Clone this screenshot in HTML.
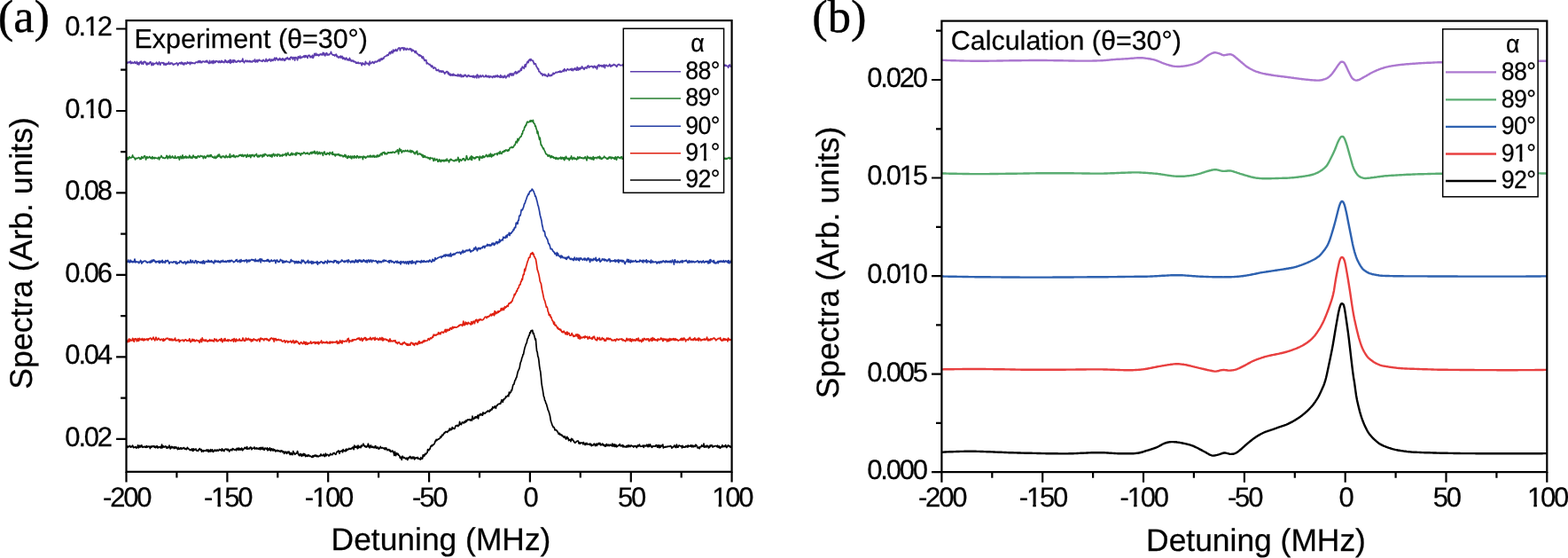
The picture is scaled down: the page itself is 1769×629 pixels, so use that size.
<!DOCTYPE html>
<html lang="en">
<head>
<meta charset="utf-8">
<title>Spectra</title>
<style>
html,body{margin:0;padding:0;background:#fff;}
body{width:1769px;height:629px;overflow:hidden;}
svg{display:block;}
text{font-family:"Liberation Sans",sans-serif;fill:#000;stroke:#000;stroke-width:0.25px;text-rendering:geometricPrecision;}
.tick{font-size:31.0px;letter-spacing:-2.2px;}
.title{font-size:30.45px;}
.axis{font-size:35.4px;}
.yaxis{font-size:35.6px;}
.leg{font-size:26.8px;letter-spacing:-0.7px;}
.panel{font-family:"Liberation Serif",serif;font-size:52.5px;stroke-width:0.4px;}
.fr{stroke:#000;stroke-width:2.2;fill:none;stroke-linecap:butt;stroke-linejoin:miter;}
.cv{fill:none;stroke-linejoin:round;stroke-linecap:butt;}
</style>
</head>
<body>
<svg width="1769" height="629" viewBox="0 0 1769 629">
<rect x="0" y="0" width="1769" height="629" fill="#ffffff"/>

<clipPath id="ca"><rect x="142.5" y="23.1" width="683.1" height="508.7"/></clipPath>
<g clip-path="url(#ca)">
<path class="cv" d="M143.0 72.0L143.6 70.0L144.2 70.5L144.8 70.9L145.4 69.8L146.0 70.6L146.6 70.6L147.2 69.0L147.8 71.6L148.4 71.3L149.0 70.1L149.6 70.6L150.2 71.3L150.8 70.6L151.4 70.6L152.0 69.5L152.6 71.4L153.2 71.1L153.8 71.2L154.4 69.5L155.0 72.6L155.6 71.2L156.2 70.7L156.8 73.0L157.4 71.1L158.0 69.8L158.6 70.8L159.2 69.0L159.8 72.2L160.4 70.8L161.0 70.5L161.6 72.3L162.2 69.7L162.8 69.6L163.4 69.4L164.0 70.7L164.6 70.2L165.2 72.8L165.8 73.1L166.4 71.1L167.0 72.2L167.6 71.3L168.2 72.0L168.8 70.7L169.4 69.8L170.0 69.8L170.6 71.9L171.2 73.6L171.8 71.8L172.4 71.0L173.0 73.4L173.6 71.8L174.2 71.7L174.8 71.8L175.4 71.5L176.0 71.3L176.6 70.2L177.2 72.1L177.8 71.5L178.4 72.8L179.0 71.3L179.6 69.8L180.2 71.6L180.8 73.3L181.4 71.3L182.0 70.8L182.6 70.5L183.2 70.7L183.8 71.4L184.4 70.6L185.0 73.1L185.6 71.4L186.2 71.8L186.8 73.1L187.4 73.1L188.0 71.5L188.6 72.0L189.2 72.4L189.8 71.5L190.4 70.0L191.0 72.3L191.6 72.5L192.2 72.1L192.8 70.8L193.4 71.5L194.0 71.1L194.6 71.4L195.2 72.9L195.8 73.1L196.4 72.3L197.0 72.2L197.6 72.3L198.2 71.6L198.8 71.5L199.4 70.9L200.0 71.5L200.6 73.7L201.2 72.4L201.8 71.2L202.4 71.0L203.0 70.6L203.6 71.8L204.2 71.8L204.8 70.0L205.4 71.8L206.0 70.8L206.6 72.7L207.2 71.4L207.8 72.9L208.4 70.8L209.0 70.9L209.6 71.5L210.2 72.2L210.8 71.7L211.4 69.9L212.0 71.2L212.6 71.1L213.2 70.6L213.8 70.4L214.4 72.6L215.0 70.5L215.6 70.1L216.2 71.5L216.8 70.9L217.4 70.7L218.0 71.5L218.6 71.2L219.2 71.0L219.8 71.6L220.4 70.9L221.0 70.0L221.6 70.2L222.2 70.0L222.8 70.7L223.4 69.4L224.0 68.7L224.6 70.5L225.2 69.1L225.8 68.5L226.4 70.7L227.0 69.6L227.6 70.7L228.2 69.7L228.8 69.1L229.4 69.0L230.0 69.6L230.6 69.9L231.2 69.3L231.8 69.8L232.4 68.6L233.0 70.0L233.6 68.3L234.2 69.8L234.8 70.6L235.4 71.0L236.0 71.5L236.6 68.4L237.2 70.6L237.8 71.0L238.4 70.7L239.0 68.9L239.6 70.2L240.2 71.5L240.8 68.3L241.4 70.2L242.0 70.8L242.6 69.0L243.2 70.2L243.8 68.7L244.4 68.9L245.0 68.9L245.6 69.8L246.2 69.5L246.8 70.5L247.4 68.7L248.0 69.5L248.6 70.5L249.2 70.1L249.8 68.3L250.4 70.2L251.0 69.1L251.6 69.9L252.2 69.8L252.8 70.7L253.4 69.6L254.0 67.7L254.6 68.2L255.2 70.2L255.8 69.2L256.4 70.5L257.0 69.7L257.6 68.7L258.2 70.4L258.8 68.6L259.4 67.4L260.0 71.3L260.6 67.6L261.2 70.0L261.8 70.2L262.4 69.5L263.0 67.7L263.6 70.3L264.2 67.9L264.8 68.0L265.4 69.0L266.0 70.0L266.6 69.6L267.2 70.0L267.8 68.8L268.4 69.1L269.0 68.2L269.6 68.9L270.2 69.8L270.8 68.9L271.4 69.6L272.0 68.6L272.6 68.6L273.2 69.2L273.8 66.2L274.4 69.7L275.0 69.3L275.6 70.8L276.2 68.9L276.8 68.9L277.4 68.1L278.0 69.1L278.6 69.7L279.2 68.3L279.8 69.0L280.4 69.7L281.0 68.9L281.6 68.5L282.2 69.9L282.8 69.0L283.4 69.3L284.0 70.0L284.6 70.0L285.2 68.5L285.8 68.3L286.4 69.1L287.0 68.7L287.6 67.0L288.2 70.0L288.8 68.8L289.4 69.4L290.0 67.6L290.6 69.9L291.2 68.1L291.8 68.5L292.4 67.2L293.0 68.4L293.6 68.3L294.2 68.3L294.8 68.9L295.4 68.5L296.0 69.3L296.6 67.9L297.2 67.4L297.8 68.2L298.4 68.8L299.0 69.4L299.6 68.9L300.2 66.4L300.8 68.4L301.4 69.4L302.0 68.0L302.6 67.4L303.2 68.2L303.8 67.4L304.4 66.4L305.0 67.8L305.6 69.0L306.2 68.1L306.8 66.9L307.4 68.2L308.0 68.4L308.6 66.9L309.2 67.0L309.8 65.2L310.4 68.2L311.0 66.7L311.6 65.2L312.2 65.5L312.8 66.9L313.4 67.8L314.0 67.0L314.6 67.5L315.2 65.9L315.8 65.6L316.4 67.7L317.0 67.3L317.6 66.7L318.2 67.9L318.8 65.8L319.4 66.2L320.0 67.5L320.6 68.3L321.2 66.5L321.8 68.0L322.4 65.8L323.0 66.6L323.6 66.1L324.2 64.7L324.8 66.4L325.4 67.0L326.0 65.9L326.6 65.9L327.2 67.2L327.8 64.6L328.4 64.3L329.0 65.1L329.6 64.5L330.2 66.9L330.8 65.8L331.4 64.6L332.0 64.8L332.6 68.1L333.2 64.7L333.8 64.5L334.4 65.4L335.0 65.7L335.6 67.8L336.2 64.1L336.8 63.8L337.4 65.4L338.0 64.7L338.6 63.1L339.2 65.7L339.8 65.3L340.4 64.3L341.0 64.2L341.6 64.6L342.2 63.6L342.8 63.0L343.4 64.5L344.0 62.7L344.6 64.4L345.2 62.6L345.8 63.8L346.4 63.7L347.0 65.5L347.6 62.7L348.2 62.3L348.8 62.9L349.4 62.4L350.0 64.9L350.6 63.7L351.2 63.9L351.8 64.7L352.4 62.3L353.0 65.4L353.6 64.7L354.2 62.5L354.8 60.4L355.4 62.5L356.0 62.5L356.6 60.2L357.2 62.3L357.8 62.0L358.4 61.3L359.0 62.6L359.6 62.9L360.2 61.4L360.8 62.0L361.4 61.1L362.0 60.9L362.6 61.6L363.2 62.0L363.8 60.9L364.4 59.3L365.0 61.9L365.6 59.8L366.2 61.3L366.8 62.9L367.4 61.1L368.0 60.0L368.6 59.7L369.2 62.2L369.8 61.1L370.4 61.6L371.0 62.0L371.6 61.1L372.2 60.9L372.8 60.4L373.4 58.4L374.0 60.0L374.6 61.5L375.2 61.5L375.8 62.2L376.4 61.8L377.0 62.2L377.6 63.0L378.2 61.6L378.8 62.3L379.4 61.2L380.0 63.8L380.6 63.2L381.2 63.8L381.8 65.0L382.4 64.7L383.0 63.8L383.6 64.9L384.2 63.0L384.8 64.9L385.4 64.9L386.0 63.4L386.6 66.4L387.2 64.7L387.8 66.2L388.4 65.3L389.0 66.8L389.6 67.3L390.2 65.5L390.8 65.1L391.4 66.6L392.0 67.8L392.6 66.9L393.2 66.9L393.8 68.2L394.4 65.4L395.0 67.7L395.6 67.2L396.2 69.1L396.8 68.3L397.4 68.2L398.0 69.1L398.6 68.2L399.2 69.8L399.8 69.3L400.4 69.7L401.0 69.5L401.6 71.2L402.2 70.4L402.8 71.1L403.4 71.2L404.0 70.1L404.6 71.5L405.2 71.4L405.8 71.5L406.4 70.9L407.0 71.0L407.6 72.2L408.2 73.7L408.8 70.9L409.4 72.2L410.0 71.5L410.6 72.6L411.2 72.3L411.8 73.0L412.4 69.3L413.0 71.4L413.6 71.1L414.2 71.9L414.8 71.3L415.4 71.3L416.0 72.5L416.6 73.5L417.2 69.0L417.8 71.2L418.4 71.7L419.0 71.2L419.6 70.7L420.2 69.6L420.8 69.8L421.4 71.2L422.0 71.4L422.6 70.2L423.2 69.2L423.8 69.8L424.4 69.3L425.0 69.9L425.6 69.2L426.2 68.3L426.8 68.8L427.4 67.2L428.0 68.8L428.6 68.9L429.2 66.3L429.8 67.5L430.4 65.8L431.0 67.3L431.6 66.8L432.2 65.3L432.8 66.1L433.4 64.4L434.0 63.8L434.6 63.5L435.2 63.5L435.8 62.9L436.4 62.9L437.0 61.7L437.6 62.6L438.2 62.3L438.8 60.4L439.4 59.1L440.0 58.8L440.6 60.7L441.2 59.1L441.8 57.7L442.4 58.9L443.0 59.8L443.6 56.2L444.2 58.2L444.8 57.2L445.4 56.4L446.0 57.4L446.6 55.5L447.2 56.8L447.8 57.5L448.4 56.3L449.0 55.1L449.6 54.1L450.2 54.4L450.8 53.8L451.4 56.9L452.0 55.1L452.6 54.2L453.2 53.9L453.8 54.1L454.4 54.7L455.0 53.7L455.6 56.5L456.2 54.1L456.8 54.1L457.4 55.1L458.0 56.2L458.6 56.1L459.2 54.5L459.8 55.3L460.4 55.3L461.0 55.8L461.6 55.8L462.2 54.8L462.8 54.7L463.4 56.3L464.0 55.2L464.6 57.9L465.2 56.9L465.8 56.1L466.4 57.1L467.0 57.3L467.6 58.0L468.2 59.4L468.8 57.6L469.4 57.6L470.0 60.1L470.6 60.1L471.2 60.9L471.8 61.6L472.4 61.5L473.0 62.8L473.6 61.7L474.2 63.1L474.8 62.8L475.4 63.0L476.0 65.2L476.6 65.7L477.2 63.9L477.8 65.2L478.4 67.2L479.0 68.5L479.6 67.4L480.2 68.4L480.8 67.7L481.4 72.0L482.0 70.6L482.6 71.5L483.2 71.8L483.8 72.6L484.4 72.8L485.0 72.4L485.6 74.0L486.2 73.8L486.8 75.5L487.4 74.0L488.0 74.6L488.6 76.2L489.2 77.2L489.8 76.5L490.4 76.0L491.0 76.9L491.6 76.9L492.2 79.4L492.8 78.8L493.4 79.4L494.0 78.8L494.6 78.3L495.2 80.2L495.8 80.9L496.4 80.1L497.0 79.8L497.6 81.1L498.2 79.9L498.8 81.2L499.4 80.0L500.0 80.0L500.6 81.7L501.2 81.7L501.8 83.3L502.4 81.5L503.0 81.9L503.6 81.0L504.2 80.5L504.8 80.8L505.4 83.1L506.0 81.7L506.6 84.1L507.2 84.6L507.8 83.1L508.4 85.1L509.0 83.9L509.6 84.9L510.2 83.8L510.8 85.1L511.4 83.4L512.0 85.0L512.6 84.1L513.2 84.5L513.8 85.3L514.4 85.0L515.0 84.8L515.6 85.6L516.2 85.7L516.8 83.7L517.4 85.6L518.0 85.8L518.6 84.5L519.2 85.6L519.8 84.0L520.4 86.7L521.0 85.1L521.6 85.3L522.2 86.6L522.8 85.3L523.4 86.1L524.0 84.5L524.6 85.0L525.2 84.3L525.8 85.4L526.4 86.6L527.0 85.9L527.6 86.5L528.2 84.7L528.8 84.9L529.4 85.3L530.0 86.3L530.6 86.1L531.2 85.8L531.8 86.4L532.4 85.7L533.0 85.9L533.6 87.2L534.2 85.4L534.8 86.1L535.4 87.5L536.0 86.1L536.6 86.7L537.2 85.5L537.8 87.9L538.4 84.0L539.0 85.1L539.6 85.2L540.2 87.7L540.8 86.5L541.4 86.0L542.0 85.0L542.6 86.6L543.2 86.4L543.8 85.7L544.4 84.9L545.0 85.3L545.6 86.6L546.2 86.7L546.8 86.5L547.4 86.3L548.0 84.8L548.6 86.5L549.2 85.5L549.8 86.5L550.4 86.9L551.0 85.9L551.6 85.5L552.2 87.4L552.8 86.8L553.4 85.9L554.0 86.5L554.6 86.4L555.2 87.1L555.8 87.5L556.4 85.8L557.0 85.9L557.6 86.0L558.2 87.2L558.8 85.3L559.4 86.3L560.0 85.5L560.6 86.6L561.2 84.9L561.8 86.7L562.4 85.9L563.0 86.1L563.6 86.8L564.2 87.3L564.8 84.6L565.4 87.2L566.0 86.7L566.6 85.9L567.2 87.5L567.8 86.3L568.4 87.3L569.0 85.5L569.6 85.2L570.2 87.1L570.8 87.9L571.4 86.4L572.0 86.5L572.6 85.1L573.2 84.2L573.8 85.1L574.4 86.6L575.0 83.2L575.6 84.3L576.2 82.8L576.8 84.5L577.4 85.1L578.0 82.9L578.6 83.4L579.2 84.9L579.8 83.3L580.4 82.0L581.0 81.6L581.6 80.7L582.2 83.1L582.8 81.3L583.4 82.7L584.0 82.2L584.6 80.4L585.2 80.1L585.8 81.0L586.4 80.0L587.0 79.7L587.6 77.4L588.2 79.3L588.8 77.0L589.4 75.1L590.0 76.0L590.6 76.4L591.2 77.3L591.8 74.3L592.4 72.7L593.0 75.3L593.6 72.8L594.2 71.6L594.8 70.0L595.4 69.2L596.0 70.7L596.6 68.2L597.2 67.3L597.8 66.8L598.4 68.5L599.0 66.5L599.6 67.9L600.2 68.0L600.8 68.6L601.4 68.3L602.0 70.6L602.6 72.4L603.2 71.7L603.8 71.6L604.4 72.2L605.0 74.7L605.6 75.3L606.2 76.6L606.8 77.9L607.4 77.5L608.0 80.6L608.6 80.8L609.2 81.2L609.8 82.2L610.4 83.5L611.0 83.3L611.6 82.9L612.2 85.3L612.8 84.2L613.4 84.1L614.0 83.5L614.6 85.1L615.2 84.1L615.8 84.7L616.4 85.7L617.0 85.4L617.6 86.3L618.2 85.7L618.8 83.0L619.4 85.1L620.0 84.8L620.6 85.8L621.2 85.0L621.8 84.4L622.4 85.3L623.0 84.3L623.6 83.5L624.2 82.2L624.8 83.7L625.4 83.2L626.0 82.7L626.6 82.0L627.2 81.3L627.8 81.6L628.4 81.9L629.0 81.4L629.6 81.2L630.2 80.7L630.8 81.3L631.4 81.1L632.0 80.0L632.6 81.3L633.2 81.2L633.8 81.1L634.4 80.0L635.0 79.9L635.6 78.8L636.2 80.5L636.8 77.6L637.4 79.2L638.0 79.1L638.6 80.1L639.2 79.2L639.8 78.2L640.4 77.7L641.0 78.2L641.6 78.9L642.2 78.8L642.8 78.4L643.4 77.8L644.0 78.2L644.6 79.3L645.2 77.2L645.8 78.1L646.4 79.6L647.0 78.5L647.6 77.4L648.2 78.4L648.8 76.9L649.4 77.6L650.0 79.0L650.6 79.2L651.2 75.7L651.8 77.9L652.4 79.0L653.0 76.6L653.6 77.2L654.2 78.4L654.8 76.4L655.4 77.2L656.0 76.6L656.6 74.8L657.2 76.9L657.8 76.3L658.4 77.3L659.0 78.3L659.6 76.9L660.2 75.9L660.8 76.6L661.4 76.3L662.0 77.0L662.6 74.6L663.2 74.8L663.8 73.9L664.4 76.3L665.0 75.7L665.6 75.0L666.2 74.8L666.8 74.9L667.4 74.5L668.0 75.0L668.6 74.8L669.2 76.5L669.8 75.5L670.4 74.3L671.0 74.5L671.6 76.1L672.2 75.3L672.8 75.1L673.4 77.9L674.0 76.3L674.6 73.5L675.2 73.9L675.8 72.9L676.4 75.0L677.0 74.1L677.6 73.8L678.2 73.7L678.8 75.0L679.4 74.2L680.0 73.8L680.6 75.4L681.2 73.2L681.8 73.0L682.4 76.6L683.0 73.8L683.6 73.5L684.2 73.3L684.8 73.9L685.4 74.7L686.0 74.6L686.6 74.4L687.2 73.6L687.8 72.4L688.4 74.0L689.0 75.2L689.6 74.7L690.2 73.5L690.8 74.4L691.4 73.3L692.0 73.5L692.6 72.4L693.2 73.2L693.8 73.7L694.4 73.3L695.0 74.2L695.6 75.3L696.2 74.7L696.8 73.1L697.4 72.7L698.0 72.8L698.6 72.5L699.2 73.4L699.8 73.8L700.4 73.6L701.0 73.6L701.6 73.6L702.2 73.3L702.8 72.7L703.4 75.0L704.0 74.4L704.6 72.5L705.2 72.5L705.8 72.8L706.4 73.4L707.0 74.6L707.6 74.4L708.2 74.4L708.8 74.4L709.4 74.5L710.0 74.1L710.6 73.8L711.2 73.3L711.8 71.8L712.4 73.3L713.0 75.1L713.6 72.9L714.2 72.8L714.8 74.4L715.4 73.5L716.0 73.0L716.6 74.9L717.2 74.0L717.8 74.1L718.4 72.9L719.0 73.9L719.6 73.8L720.2 74.2L720.8 74.5L721.4 74.5L722.0 73.6L722.6 72.2L723.2 72.4L723.8 74.1L724.4 74.1L725.0 73.1L725.6 72.7L726.2 73.4L726.8 72.3L727.4 73.8L728.0 73.7L728.6 75.2L729.2 73.5L729.8 74.5L730.4 74.5L731.0 74.4L731.6 73.3L732.2 73.2L732.8 73.1L733.4 74.0L734.0 75.7L734.6 74.8L735.2 75.0L735.8 74.8L736.4 72.0L737.0 73.3L737.6 73.1L738.2 74.7L738.8 75.1L739.4 72.9L740.0 73.5L740.6 74.0L741.2 73.0L741.8 72.9L742.4 72.9L743.0 74.4L743.6 72.7L744.2 74.6L744.8 73.6L745.4 74.2L746.0 75.0L746.6 72.9L747.2 72.8L747.8 73.9L748.4 72.6L749.0 72.9L749.6 73.4L750.2 73.7L750.8 72.4L751.4 73.2L752.0 74.1L752.6 74.8L753.2 71.7L753.8 74.8L754.4 74.4L755.0 72.5L755.6 72.2L756.2 74.0L756.8 73.2L757.4 73.7L758.0 74.4L758.6 73.2L759.2 73.7L759.8 74.0L760.4 74.4L761.0 75.3L761.6 75.2L762.2 73.8L762.8 73.4L763.4 75.9L764.0 74.2L764.6 74.0L765.2 72.6L765.8 74.4L766.4 72.9L767.0 73.2L767.6 72.4L768.2 73.2L768.8 73.7L769.4 72.2L770.0 72.8L770.6 73.6L771.2 72.5L771.8 72.5L772.4 72.9L773.0 72.3L773.6 74.3L774.2 72.7L774.8 74.4L775.4 74.6L776.0 72.6L776.6 73.7L777.2 73.3L777.8 72.6L778.4 73.4L779.0 73.5L779.6 74.4L780.2 74.7L780.8 72.7L781.4 73.4L782.0 74.2L782.6 74.9L783.2 71.4L783.8 75.0L784.4 73.6L785.0 75.2L785.6 73.4L786.2 73.0L786.8 73.8L787.4 74.9L788.0 73.8L788.6 71.6L789.2 74.5L789.8 72.3L790.4 72.9L791.0 72.7L791.6 72.1L792.2 72.6L792.8 72.9L793.4 73.3L794.0 73.8L794.6 73.5L795.2 72.5L795.8 73.7L796.4 74.8L797.0 74.8L797.6 74.0L798.2 74.5L798.8 74.7L799.4 75.2L800.0 75.5L800.6 73.6L801.2 73.7L801.8 75.3L802.4 75.4L803.0 75.4L803.6 71.7L804.2 73.8L804.8 70.9L805.4 74.7L806.0 74.0L806.6 74.0L807.2 73.9L807.8 77.0L808.4 73.7L809.0 75.0L809.6 74.5L810.2 74.4L810.8 74.5L811.4 74.1L812.0 73.0L812.6 74.7L813.2 74.7L813.8 73.9L814.4 74.8L815.0 74.9L815.6 72.9L816.2 74.0L816.8 73.7L817.4 73.2L818.0 74.4L818.6 73.3L819.2 73.7L819.8 74.4L820.4 74.5L821.0 74.5L821.6 76.3L822.2 73.7L822.8 74.4L823.4 73.0L824.0 74.6L824.6 75.3L825.0 75.4" stroke="#5e3eae" stroke-width="1.7"/>
<path class="cv" d="M143.0 178.1L143.6 177.3L144.2 180.0L144.8 177.8L145.4 178.9L146.0 176.6L146.6 177.7L147.2 177.9L147.8 178.0L148.4 177.5L149.0 177.0L149.6 174.9L150.2 177.3L150.8 177.0L151.4 177.6L152.0 178.6L152.6 179.9L153.2 178.3L153.8 178.8L154.4 178.4L155.0 178.5L155.6 178.4L156.2 177.5L156.8 177.5L157.4 178.1L158.0 179.5L158.6 178.5L159.2 179.3L159.8 176.5L160.4 178.0L161.0 178.1L161.6 178.2L162.2 176.4L162.8 176.0L163.4 175.7L164.0 177.4L164.6 180.0L165.2 177.9L165.8 176.6L166.4 178.0L167.0 177.4L167.6 177.9L168.2 177.3L168.8 176.5L169.4 177.2L170.0 178.4L170.6 178.0L171.2 178.8L171.8 176.6L172.4 178.7L173.0 177.7L173.6 177.8L174.2 178.8L174.8 177.5L175.4 177.9L176.0 178.2L176.6 178.2L177.2 178.4L177.8 178.8L178.4 178.1L179.0 177.2L179.6 179.9L180.2 177.6L180.8 177.9L181.4 176.9L182.0 175.5L182.6 176.8L183.2 177.6L183.8 178.1L184.4 177.6L185.0 178.3L185.6 178.5L186.2 178.5L186.8 177.5L187.4 177.6L188.0 175.3L188.6 176.7L189.2 178.8L189.8 176.3L190.4 177.4L191.0 177.7L191.6 175.4L192.2 178.2L192.8 177.1L193.4 177.7L194.0 177.1L194.6 176.0L195.2 177.6L195.8 177.5L196.4 178.3L197.0 177.8L197.6 175.8L198.2 178.4L198.8 178.1L199.4 178.1L200.0 177.8L200.6 176.7L201.2 177.8L201.8 177.0L202.4 180.1L203.0 177.1L203.6 176.2L204.2 177.0L204.8 178.6L205.4 176.7L206.0 174.9L206.6 178.6L207.2 177.6L207.8 176.8L208.4 177.9L209.0 176.3L209.6 176.1L210.2 178.1L210.8 176.7L211.4 177.7L212.0 177.2L212.6 177.9L213.2 177.2L213.8 175.2L214.4 177.8L215.0 176.7L215.6 177.9L216.2 177.2L216.8 178.4L217.4 176.8L218.0 175.1L218.6 176.7L219.2 177.5L219.8 176.7L220.4 176.6L221.0 178.4L221.6 176.8L222.2 178.0L222.8 177.1L223.4 175.6L224.0 176.0L224.6 176.6L225.2 177.2L225.8 176.1L226.4 175.5L227.0 175.9L227.6 176.4L228.2 176.0L228.8 176.3L229.4 178.6L230.0 177.1L230.6 176.0L231.2 176.8L231.8 178.3L232.4 177.4L233.0 176.6L233.6 175.4L234.2 175.1L234.8 176.4L235.4 176.6L236.0 175.1L236.6 175.4L237.2 176.6L237.8 174.5L238.4 175.0L239.0 176.5L239.6 177.1L240.2 176.9L240.8 177.5L241.4 178.0L242.0 177.4L242.6 176.2L243.2 178.5L243.8 178.1L244.4 177.4L245.0 175.7L245.6 176.8L246.2 174.4L246.8 176.1L247.4 174.0L248.0 176.0L248.6 177.3L249.2 176.4L249.8 177.9L250.4 176.3L251.0 176.4L251.6 176.0L252.2 176.8L252.8 176.2L253.4 177.4L254.0 177.8L254.6 176.6L255.2 175.2L255.8 176.7L256.4 177.5L257.0 176.8L257.6 176.4L258.2 177.0L258.8 177.4L259.4 173.6L260.0 177.6L260.6 176.8L261.2 176.5L261.8 175.5L262.4 176.3L263.0 176.6L263.6 174.6L264.2 176.7L264.8 176.1L265.4 177.4L266.0 176.6L266.6 175.8L267.2 176.0L267.8 176.6L268.4 176.1L269.0 176.4L269.6 175.2L270.2 174.7L270.8 175.3L271.4 174.5L272.0 175.1L272.6 176.2L273.2 174.3L273.8 174.6L274.4 176.5L275.0 175.3L275.6 175.8L276.2 174.6L276.8 174.8L277.4 175.4L278.0 177.3L278.6 176.1L279.2 174.1L279.8 176.1L280.4 176.5L281.0 176.3L281.6 174.5L282.2 175.6L282.8 177.6L283.4 174.7L284.0 175.9L284.6 174.9L285.2 174.3L285.8 175.1L286.4 176.5L287.0 176.6L287.6 174.7L288.2 175.0L288.8 174.6L289.4 173.5L290.0 176.0L290.6 176.9L291.2 176.8L291.8 175.0L292.4 176.6L293.0 176.4L293.6 175.0L294.2 175.3L294.8 175.0L295.4 175.5L296.0 177.0L296.6 174.4L297.2 174.1L297.8 176.1L298.4 175.3L299.0 173.4L299.6 174.2L300.2 174.4L300.8 174.6L301.4 175.5L302.0 176.1L302.6 175.0L303.2 175.2L303.8 174.4L304.4 176.0L305.0 176.3L305.6 174.8L306.2 174.3L306.8 177.0L307.4 175.9L308.0 174.1L308.6 173.3L309.2 174.6L309.8 176.0L310.4 174.4L311.0 174.6L311.6 174.4L312.2 175.4L312.8 176.1L313.4 173.6L314.0 174.5L314.6 174.5L315.2 174.1L315.8 176.2L316.4 175.4L317.0 174.8L317.6 175.3L318.2 176.0L318.8 174.2L319.4 175.0L320.0 174.1L320.6 174.4L321.2 174.7L321.8 174.2L322.4 172.9L323.0 175.7L323.6 174.4L324.2 173.1L324.8 172.1L325.4 174.1L326.0 174.7L326.6 175.0L327.2 175.1L327.8 173.6L328.4 174.5L329.0 172.4L329.6 174.0L330.2 174.6L330.8 173.1L331.4 173.5L332.0 173.7L332.6 173.7L333.2 174.9L333.8 172.4L334.4 174.7L335.0 172.2L335.6 172.7L336.2 172.5L336.8 173.1L337.4 172.7L338.0 173.6L338.6 173.1L339.2 175.1L339.8 173.4L340.4 172.7L341.0 173.3L341.6 173.4L342.2 172.7L342.8 171.7L343.4 172.0L344.0 172.9L344.6 173.5L345.2 173.1L345.8 172.5L346.4 173.1L347.0 172.1L347.6 172.8L348.2 173.9L348.8 173.6L349.4 173.8L350.0 172.1L350.6 172.6L351.2 171.5L351.8 173.3L352.4 172.0L353.0 171.1L353.6 171.9L354.2 172.6L354.8 170.3L355.4 171.0L356.0 173.3L356.6 172.5L357.2 172.4L357.8 170.9L358.4 173.9L359.0 173.4L359.6 173.1L360.2 171.4L360.8 173.0L361.4 173.6L362.0 172.2L362.6 172.3L363.2 172.1L363.8 173.2L364.4 175.3L365.0 172.3L365.6 171.3L366.2 171.1L366.8 173.6L367.4 174.2L368.0 173.6L368.6 174.1L369.2 172.3L369.8 172.8L370.4 173.2L371.0 172.8L371.6 174.5L372.2 171.7L372.8 172.5L373.4 172.7L374.0 172.4L374.6 174.0L375.2 171.3L375.8 174.4L376.4 174.2L377.0 173.7L377.6 174.9L378.2 175.9L378.8 173.9L379.4 174.6L380.0 174.4L380.6 174.6L381.2 173.8L381.8 173.7L382.4 175.1L383.0 174.2L383.6 175.7L384.2 175.7L384.8 174.7L385.4 175.6L386.0 175.5L386.6 175.4L387.2 176.8L387.8 175.9L388.4 176.2L389.0 174.3L389.6 176.8L390.2 175.0L390.8 176.1L391.4 178.1L392.0 178.4L392.6 176.5L393.2 175.7L393.8 177.4L394.4 176.7L395.0 177.5L395.6 176.0L396.2 178.4L396.8 178.8L397.4 176.0L398.0 176.7L398.6 176.7L399.2 178.1L399.8 175.5L400.4 177.6L401.0 177.2L401.6 176.6L402.2 178.0L402.8 175.5L403.4 176.0L404.0 176.6L404.6 178.0L405.2 176.9L405.8 176.4L406.4 177.7L407.0 176.7L407.6 176.5L408.2 176.8L408.8 177.4L409.4 179.6L410.0 176.0L410.6 177.2L411.2 176.8L411.8 176.6L412.4 178.3L413.0 177.5L413.6 177.4L414.2 176.3L414.8 175.8L415.4 176.9L416.0 176.3L416.6 176.0L417.2 177.1L417.8 175.2L418.4 175.6L419.0 177.0L419.6 176.1L420.2 176.8L420.8 175.3L421.4 176.7L422.0 175.3L422.6 177.2L423.2 176.6L423.8 176.2L424.4 177.1L425.0 175.9L425.6 174.8L426.2 176.8L426.8 175.5L427.4 176.2L428.0 175.0L428.6 175.8L429.2 173.7L429.8 173.2L430.4 172.9L431.0 174.8L431.6 172.0L432.2 172.0L432.8 172.2L433.4 171.4L434.0 173.7L434.6 172.3L435.2 173.7L435.8 173.1L436.4 173.7L437.0 173.3L437.6 171.7L438.2 172.4L438.8 171.9L439.4 172.4L440.0 172.0L440.6 171.7L441.2 172.3L441.8 171.6L442.4 172.1L443.0 171.3L443.6 171.1L444.2 172.0L444.8 171.9L445.4 172.1L446.0 171.4L446.6 170.5L447.2 170.8L447.8 170.7L448.4 168.8L449.0 169.3L449.6 173.7L450.2 170.1L450.8 167.4L451.4 170.0L452.0 170.2L452.6 168.8L453.2 172.1L453.8 171.0L454.4 170.7L455.0 169.8L455.6 170.4L456.2 170.8L456.8 170.5L457.4 169.4L458.0 170.3L458.6 170.3L459.2 170.5L459.8 169.3L460.4 170.6L461.0 170.5L461.6 170.8L462.2 170.9L462.8 169.4L463.4 171.7L464.0 171.7L464.6 169.8L465.2 171.1L465.8 170.5L466.4 171.1L467.0 172.6L467.6 172.2L468.2 173.8L468.8 172.1L469.4 171.1L470.0 172.4L470.6 170.2L471.2 174.4L471.8 173.2L472.4 173.6L473.0 173.7L473.6 173.0L474.2 174.0L474.8 173.7L475.4 174.3L476.0 175.5L476.6 174.4L477.2 177.4L477.8 175.1L478.4 177.2L479.0 176.1L479.6 175.8L480.2 177.5L480.8 177.5L481.4 177.3L482.0 177.7L482.6 177.3L483.2 178.5L483.8 177.8L484.4 178.5L485.0 179.7L485.6 177.6L486.2 178.4L486.8 178.5L487.4 178.5L488.0 178.2L488.6 179.3L489.2 181.5L489.8 179.7L490.4 178.4L491.0 180.6L491.6 180.7L492.2 180.2L492.8 179.3L493.4 179.5L494.0 182.2L494.6 182.1L495.2 181.0L495.8 179.7L496.4 181.8L497.0 180.9L497.6 182.3L498.2 180.3L498.8 181.3L499.4 180.7L500.0 181.6L500.6 180.4L501.2 181.8L501.8 180.6L502.4 180.2L503.0 181.5L503.6 181.2L504.2 179.0L504.8 180.9L505.4 181.1L506.0 181.1L506.6 182.9L507.2 180.3L507.8 180.9L508.4 179.3L509.0 179.5L509.6 180.3L510.2 180.7L510.8 180.6L511.4 181.3L512.0 181.4L512.6 181.6L513.2 180.5L513.8 181.1L514.4 179.9L515.0 180.9L515.6 180.9L516.2 180.0L516.8 177.3L517.4 179.7L518.0 182.7L518.6 180.2L519.2 179.6L519.8 180.3L520.4 181.2L521.0 180.4L521.6 179.8L522.2 178.8L522.8 179.6L523.4 178.7L524.0 180.1L524.6 181.2L525.2 180.7L525.8 179.0L526.4 175.5L527.0 178.1L527.6 179.8L528.2 179.8L528.8 179.9L529.4 179.4L530.0 177.9L530.6 177.1L531.2 179.9L531.8 175.9L532.4 180.5L533.0 176.6L533.6 177.5L534.2 177.5L534.8 178.6L535.4 178.9L536.0 177.6L536.6 178.6L537.2 176.8L537.8 177.4L538.4 176.7L539.0 177.2L539.6 177.0L540.2 177.8L540.8 180.7L541.4 176.1L542.0 177.1L542.6 177.8L543.2 177.2L543.8 178.3L544.4 175.9L545.0 177.5L545.6 176.0L546.2 177.4L546.8 176.7L547.4 176.6L548.0 175.7L548.6 174.4L549.2 175.0L549.8 176.7L550.4 175.6L551.0 176.5L551.6 174.4L552.2 176.1L552.8 176.4L553.4 173.2L554.0 175.5L554.6 176.9L555.2 174.2L555.8 175.8L556.4 174.7L557.0 175.4L557.6 174.0L558.2 173.5L558.8 173.7L559.4 173.6L560.0 173.3L560.6 172.9L561.2 174.6L561.8 172.8L562.4 172.1L563.0 172.1L563.6 173.3L564.2 170.6L564.8 173.0L565.4 173.0L566.0 173.3L566.6 171.4L567.2 170.8L567.8 171.6L568.4 171.3L569.0 169.5L569.6 170.7L570.2 169.9L570.8 168.8L571.4 169.6L572.0 169.5L572.6 170.3L573.2 168.9L573.8 169.8L574.4 169.3L575.0 167.1L575.6 166.4L576.2 166.5L576.8 166.5L577.4 165.5L578.0 166.5L578.6 166.0L579.2 166.0L579.8 164.6L580.4 163.3L581.0 163.4L581.6 161.4L582.2 159.3L582.8 159.9L583.4 160.9L584.0 156.4L584.6 158.8L585.2 157.9L585.8 156.0L586.4 155.4L587.0 154.2L587.6 154.2L588.2 153.4L588.8 150.6L589.4 150.9L590.0 147.5L590.6 147.3L591.2 146.1L591.8 143.1L592.4 143.3L593.0 141.0L593.6 141.3L594.2 138.9L594.8 137.4L595.4 137.2L596.0 138.0L596.6 137.8L597.2 137.4L597.8 136.1L598.4 137.2L599.0 135.7L599.6 135.9L600.2 137.1L600.8 136.4L601.4 135.5L602.0 138.8L602.6 139.0L603.2 139.6L603.8 142.5L604.4 142.2L605.0 145.1L605.6 146.3L606.2 150.4L606.8 148.2L607.4 152.1L608.0 154.3L608.6 157.3L609.2 155.2L609.8 160.0L610.4 163.6L611.0 163.3L611.6 165.3L612.2 166.2L612.8 167.8L613.4 167.2L614.0 169.0L614.6 170.5L615.2 171.6L615.8 173.4L616.4 173.6L617.0 174.3L617.6 174.3L618.2 176.2L618.8 174.9L619.4 175.9L620.0 175.0L620.6 175.7L621.2 177.8L621.8 177.1L622.4 175.6L623.0 177.4L623.6 177.4L624.2 176.6L624.8 178.1L625.4 177.7L626.0 178.0L626.6 179.0L627.2 177.5L627.8 179.2L628.4 178.0L629.0 178.0L629.6 179.5L630.2 178.7L630.8 178.0L631.4 178.3L632.0 178.7L632.6 177.1L633.2 179.2L633.8 178.6L634.4 177.4L635.0 177.7L635.6 179.5L636.2 177.5L636.8 180.7L637.4 177.7L638.0 178.9L638.6 176.3L639.2 178.6L639.8 178.2L640.4 179.1L641.0 178.9L641.6 178.3L642.2 180.7L642.8 179.4L643.4 177.9L644.0 178.9L644.6 175.9L645.2 178.0L645.8 179.8L646.4 178.0L647.0 178.7L647.6 177.4L648.2 179.3L648.8 178.6L649.4 178.5L650.0 179.4L650.6 180.0L651.2 179.2L651.8 176.8L652.4 178.8L653.0 178.6L653.6 177.3L654.2 176.8L654.8 178.0L655.4 178.1L656.0 178.3L656.6 177.6L657.2 178.5L657.8 178.6L658.4 178.0L659.0 178.7L659.6 177.7L660.2 176.8L660.8 178.3L661.4 179.1L662.0 180.8L662.6 176.2L663.2 177.8L663.8 177.4L664.4 178.5L665.0 177.4L665.6 178.3L666.2 179.1L666.8 177.5L667.4 178.1L668.0 179.7L668.6 179.0L669.2 176.6L669.8 180.1L670.4 177.5L671.0 178.4L671.6 177.7L672.2 177.7L672.8 177.5L673.4 178.7L674.0 177.4L674.6 176.9L675.2 177.6L675.8 178.1L676.4 176.2L677.0 178.8L677.6 177.4L678.2 178.8L678.8 179.4L679.4 178.4L680.0 178.6L680.6 177.6L681.2 177.4L681.8 176.2L682.4 177.8L683.0 177.5L683.6 177.8L684.2 178.3L684.8 179.4L685.4 178.4L686.0 179.1L686.6 177.7L687.2 177.0L687.8 178.0L688.4 177.6L689.0 176.9L689.6 178.9L690.2 178.1L690.8 177.3L691.4 178.1L692.0 177.8L692.6 178.5L693.2 179.4L693.8 177.3L694.4 176.8L695.0 179.2L695.6 180.2L696.2 177.3L696.8 177.0L697.4 176.7L698.0 177.9L698.6 178.0L699.2 177.6L699.8 178.7L700.4 177.1L701.0 177.3L701.6 176.7L702.2 179.2L702.8 178.9L703.4 179.1L704.0 177.1L704.6 179.1L705.2 178.2L705.8 178.6L706.4 178.4L707.0 177.6L707.6 177.7L708.2 176.4L708.8 177.4L709.4 177.7L710.0 176.8L710.6 178.0L711.2 179.1L711.8 177.4L712.4 177.0L713.0 177.1L713.6 178.1L714.2 179.6L714.8 178.1L715.4 178.0L716.0 176.8L716.6 178.3L717.2 178.5L717.8 177.6L718.4 177.9L719.0 177.3L719.6 175.7L720.2 179.2L720.8 178.3L721.4 178.5L722.0 178.0L722.6 174.3L723.2 177.3L723.8 177.6L724.4 178.1L725.0 178.0L725.6 179.0L726.2 178.7L726.8 179.4L727.4 178.8L728.0 177.8L728.6 178.2L729.2 176.5L729.8 179.7L730.4 177.5L731.0 177.7L731.6 179.8L732.2 177.1L732.8 177.5L733.4 178.1L734.0 177.6L734.6 178.2L735.2 178.4L735.8 178.7L736.4 178.1L737.0 178.8L737.6 177.9L738.2 178.8L738.8 179.3L739.4 176.6L740.0 178.0L740.6 178.4L741.2 176.4L741.8 175.3L742.4 178.5L743.0 177.6L743.6 179.0L744.2 178.2L744.8 178.2L745.4 177.9L746.0 178.4L746.6 177.4L747.2 177.8L747.8 179.0L748.4 178.1L749.0 178.8L749.6 178.3L750.2 178.0L750.8 177.4L751.4 179.1L752.0 177.5L752.6 178.7L753.2 176.9L753.8 178.6L754.4 178.7L755.0 177.7L755.6 176.8L756.2 178.2L756.8 178.5L757.4 177.9L758.0 177.7L758.6 179.2L759.2 178.3L759.8 178.0L760.4 179.2L761.0 178.4L761.6 177.7L762.2 179.2L762.8 178.1L763.4 179.3L764.0 177.8L764.6 178.7L765.2 179.6L765.8 178.9L766.4 178.9L767.0 178.9L767.6 179.2L768.2 178.5L768.8 178.9L769.4 178.2L770.0 180.3L770.6 177.6L771.2 179.2L771.8 177.5L772.4 179.0L773.0 179.7L773.6 177.5L774.2 180.1L774.8 177.6L775.4 177.7L776.0 178.8L776.6 177.5L777.2 179.4L777.8 179.0L778.4 176.0L779.0 177.2L779.6 177.8L780.2 178.9L780.8 177.5L781.4 177.8L782.0 179.1L782.6 177.6L783.2 178.8L783.8 177.3L784.4 179.5L785.0 179.9L785.6 177.5L786.2 176.3L786.8 177.0L787.4 179.5L788.0 178.0L788.6 179.5L789.2 177.3L789.8 177.7L790.4 178.5L791.0 179.6L791.6 178.4L792.2 177.6L792.8 178.9L793.4 178.7L794.0 179.1L794.6 178.4L795.2 178.0L795.8 178.6L796.4 176.3L797.0 178.8L797.6 179.8L798.2 179.1L798.8 177.7L799.4 177.2L800.0 179.8L800.6 178.1L801.2 178.4L801.8 178.8L802.4 178.1L803.0 178.7L803.6 180.0L804.2 178.2L804.8 180.4L805.4 179.0L806.0 178.9L806.6 179.5L807.2 179.5L807.8 179.6L808.4 179.2L809.0 178.1L809.6 180.2L810.2 178.5L810.8 177.9L811.4 179.5L812.0 179.3L812.6 178.6L813.2 178.7L813.8 179.2L814.4 180.5L815.0 178.6L815.6 177.5L816.2 178.2L816.8 179.2L817.4 178.5L818.0 178.1L818.6 179.4L819.2 179.4L819.8 178.5L820.4 179.0L821.0 178.1L821.6 178.1L822.2 178.4L822.8 177.4L823.4 179.0L824.0 178.6L824.6 178.2L825.0 178.8" stroke="#237d2d" stroke-width="1.7"/>
<path class="cv" d="M143.0 294.3L143.6 295.6L144.2 294.1L144.8 293.1L145.4 295.4L146.0 295.9L146.6 294.6L147.2 293.2L147.8 295.5L148.4 294.3L149.0 294.5L149.6 295.7L150.2 294.9L150.8 295.5L151.4 294.5L152.0 292.0L152.6 295.8L153.2 294.6L153.8 295.3L154.4 295.2L155.0 295.6L155.6 295.1L156.2 295.1L156.8 296.6L157.4 295.3L158.0 295.2L158.6 293.5L159.2 294.4L159.8 297.1L160.4 296.2L161.0 294.9L161.6 295.4L162.2 294.4L162.8 294.3L163.4 294.1L164.0 294.5L164.6 294.3L165.2 295.7L165.8 295.3L166.4 296.2L167.0 295.4L167.6 295.4L168.2 295.4L168.8 296.0L169.4 294.3L170.0 296.1L170.6 295.2L171.2 293.3L171.8 295.1L172.4 293.2L173.0 294.1L173.6 292.8L174.2 294.1L174.8 294.9L175.4 294.4L176.0 296.0L176.6 294.8L177.2 294.7L177.8 294.9L178.4 295.4L179.0 294.1L179.6 296.4L180.2 296.3L180.8 294.2L181.4 294.9L182.0 295.7L182.6 294.1L183.2 293.4L183.8 296.2L184.4 295.0L185.0 295.1L185.6 295.0L186.2 296.4L186.8 293.6L187.4 294.9L188.0 294.6L188.6 293.9L189.2 293.5L189.8 294.4L190.4 295.6L191.0 297.2L191.6 295.9L192.2 295.4L192.8 295.5L193.4 295.4L194.0 296.0L194.6 295.7L195.2 296.0L195.8 295.0L196.4 295.3L197.0 294.9L197.6 295.2L198.2 296.8L198.8 294.9L199.4 297.4L200.0 297.3L200.6 296.0L201.2 296.0L201.8 296.2L202.4 296.3L203.0 294.1L203.6 294.6L204.2 294.2L204.8 295.6L205.4 296.0L206.0 295.7L206.6 296.7L207.2 296.4L207.8 295.3L208.4 294.9L209.0 295.2L209.6 297.7L210.2 295.9L210.8 295.3L211.4 296.2L212.0 294.4L212.6 296.0L213.2 295.5L213.8 295.9L214.4 296.0L215.0 293.0L215.6 295.0L216.2 296.0L216.8 295.6L217.4 293.8L218.0 295.6L218.6 296.0L219.2 296.3L219.8 295.8L220.4 293.7L221.0 294.3L221.6 294.2L222.2 296.8L222.8 295.7L223.4 294.8L224.0 295.2L224.6 295.2L225.2 296.1L225.8 296.0L226.4 295.1L227.0 296.7L227.6 295.4L228.2 294.8L228.8 296.9L229.4 293.9L230.0 294.3L230.6 297.1L231.2 295.6L231.8 295.2L232.4 294.4L233.0 295.0L233.6 295.1L234.2 295.3L234.8 293.3L235.4 295.2L236.0 294.0L236.6 295.4L237.2 295.2L237.8 294.8L238.4 293.8L239.0 295.6L239.6 294.7L240.2 295.6L240.8 296.1L241.4 296.9L242.0 294.5L242.6 293.4L243.2 295.1L243.8 294.9L244.4 294.2L245.0 294.8L245.6 295.3L246.2 294.0L246.8 295.4L247.4 295.7L248.0 294.6L248.6 296.0L249.2 294.5L249.8 294.0L250.4 295.1L251.0 294.3L251.6 293.4L252.2 295.2L252.8 295.2L253.4 294.6L254.0 295.2L254.6 294.2L255.2 295.5L255.8 295.2L256.4 294.2L257.0 293.8L257.6 294.2L258.2 295.4L258.8 293.6L259.4 293.5L260.0 295.0L260.6 294.2L261.2 293.3L261.8 293.9L262.4 294.3L263.0 294.7L263.6 295.7L264.2 295.3L264.8 295.0L265.4 294.1L266.0 293.1L266.6 294.0L267.2 292.6L267.8 294.4L268.4 295.2L269.0 294.6L269.6 294.1L270.2 293.3L270.8 295.7L271.4 295.0L272.0 292.6L272.6 294.8L273.2 294.4L273.8 293.9L274.4 294.0L275.0 293.7L275.6 294.8L276.2 293.5L276.8 294.0L277.4 294.0L278.0 292.7L278.6 295.9L279.2 293.6L279.8 294.1L280.4 293.2L281.0 295.0L281.6 293.2L282.2 294.0L282.8 293.4L283.4 292.7L284.0 292.4L284.6 293.0L285.2 293.4L285.8 292.8L286.4 293.1L287.0 294.0L287.6 294.7L288.2 292.2L288.8 294.5L289.4 294.4L290.0 293.6L290.6 294.4L291.2 293.2L291.8 294.7L292.4 293.1L293.0 292.2L293.6 291.8L294.2 295.9L294.8 292.2L295.4 292.0L296.0 293.5L296.6 294.4L297.2 294.0L297.8 293.9L298.4 294.6L299.0 293.8L299.6 294.0L300.2 294.4L300.8 293.9L301.4 292.7L302.0 294.3L302.6 292.5L303.2 294.8L303.8 294.1L304.4 295.3L305.0 294.0L305.6 294.1L306.2 293.0L306.8 294.3L307.4 294.4L308.0 294.3L308.6 293.7L309.2 293.8L309.8 293.2L310.4 293.6L311.0 296.7L311.6 294.7L312.2 293.1L312.8 293.2L313.4 294.7L314.0 295.3L314.6 294.6L315.2 295.1L315.8 294.2L316.4 292.5L317.0 293.3L317.6 293.8L318.2 293.4L318.8 296.1L319.4 294.0L320.0 296.1L320.6 294.3L321.2 295.6L321.8 294.6L322.4 295.3L323.0 294.1L323.6 294.8L324.2 295.0L324.8 295.3L325.4 295.4L326.0 295.2L326.6 296.1L327.2 295.8L327.8 294.5L328.4 292.5L329.0 294.8L329.6 294.0L330.2 294.1L330.8 294.7L331.4 294.7L332.0 294.7L332.6 296.9L333.2 294.7L333.8 295.9L334.4 294.6L335.0 296.4L335.6 296.4L336.2 294.5L336.8 296.3L337.4 294.9L338.0 296.0L338.6 296.2L339.2 295.6L339.8 296.9L340.4 293.2L341.0 294.4L341.6 295.0L342.2 293.3L342.8 294.3L343.4 294.9L344.0 296.1L344.6 296.9L345.2 295.6L345.8 295.4L346.4 295.6L347.0 294.3L347.6 293.4L348.2 296.7L348.8 295.6L349.4 295.2L350.0 295.8L350.6 296.2L351.2 294.5L351.8 297.4L352.4 295.5L353.0 294.7L353.6 296.8L354.2 296.5L354.8 295.6L355.4 295.5L356.0 295.5L356.6 296.3L357.2 296.6L357.8 294.5L358.4 298.2L359.0 296.0L359.6 296.4L360.2 295.9L360.8 296.6L361.4 295.3L362.0 294.8L362.6 295.0L363.2 295.3L363.8 296.3L364.4 296.0L365.0 297.0L365.6 295.7L366.2 296.5L366.8 294.4L367.4 294.7L368.0 295.3L368.6 295.7L369.2 296.9L369.8 293.4L370.4 295.2L371.0 295.0L371.6 295.6L372.2 294.3L372.8 295.2L373.4 294.8L374.0 294.7L374.6 294.8L375.2 295.7L375.8 295.1L376.4 296.0L377.0 293.6L377.6 295.0L378.2 293.7L378.8 294.2L379.4 294.0L380.0 296.2L380.6 294.9L381.2 294.7L381.8 297.1L382.4 295.2L383.0 295.8L383.6 295.1L384.2 295.2L384.8 295.0L385.4 293.0L386.0 293.2L386.6 294.4L387.2 294.3L387.8 295.0L388.4 295.5L389.0 294.0L389.6 295.2L390.2 294.3L390.8 294.5L391.4 293.4L392.0 294.6L392.6 295.9L393.2 292.9L393.8 294.3L394.4 294.6L395.0 294.5L395.6 296.0L396.2 295.2L396.8 294.2L397.4 295.5L398.0 294.0L398.6 294.0L399.2 295.6L399.8 296.0L400.4 295.0L401.0 293.3L401.6 292.9L402.2 295.3L402.8 295.4L403.4 293.6L404.0 295.7L404.6 293.8L405.2 292.9L405.8 294.3L406.4 294.6L407.0 293.2L407.6 295.2L408.2 293.9L408.8 295.1L409.4 294.7L410.0 292.9L410.6 293.1L411.2 294.5L411.8 293.9L412.4 295.4L413.0 294.3L413.6 293.4L414.2 296.0L414.8 293.5L415.4 293.4L416.0 293.0L416.6 295.4L417.2 295.0L417.8 293.7L418.4 292.9L419.0 294.8L419.6 295.5L420.2 293.8L420.8 293.4L421.4 294.0L422.0 294.4L422.6 294.3L423.2 294.4L423.8 293.8L424.4 294.1L425.0 295.6L425.6 294.8L426.2 296.8L426.8 294.5L427.4 294.1L428.0 295.0L428.6 295.9L429.2 294.5L429.8 294.7L430.4 295.8L431.0 294.9L431.6 294.4L432.2 293.4L432.8 294.9L433.4 293.1L434.0 293.7L434.6 294.1L435.2 293.5L435.8 294.1L436.4 294.5L437.0 294.5L437.6 294.7L438.2 295.6L438.8 293.9L439.4 296.1L440.0 293.7L440.6 293.8L441.2 293.7L441.8 295.6L442.4 294.7L443.0 294.6L443.6 294.9L444.2 296.2L444.8 296.4L445.4 295.8L446.0 294.9L446.6 294.5L447.2 295.3L447.8 296.4L448.4 294.2L449.0 295.4L449.6 296.2L450.2 295.7L450.8 296.3L451.4 295.1L452.0 297.8L452.6 294.7L453.2 295.3L453.8 296.1L454.4 295.6L455.0 294.7L455.6 295.7L456.2 296.8L456.8 295.4L457.4 295.0L458.0 296.2L458.6 297.4L459.2 295.1L459.8 294.9L460.4 296.1L461.0 297.7L461.6 294.5L462.2 296.0L462.8 294.6L463.4 294.6L464.0 297.1L464.6 294.5L465.2 294.0L465.8 296.7L466.4 296.0L467.0 295.2L467.6 295.7L468.2 295.7L468.8 297.6L469.4 294.9L470.0 294.2L470.6 295.4L471.2 294.4L471.8 294.9L472.4 294.6L473.0 294.6L473.6 295.4L474.2 295.0L474.8 296.1L475.4 293.5L476.0 295.4L476.6 294.4L477.2 295.3L477.8 294.1L478.4 293.9L479.0 295.3L479.6 294.6L480.2 294.9L480.8 295.5L481.4 294.4L482.0 294.1L482.6 294.6L483.2 295.3L483.8 294.0L484.4 294.6L485.0 293.0L485.6 294.3L486.2 294.5L486.8 295.5L487.4 294.9L488.0 292.4L488.6 292.6L489.2 294.2L489.8 293.3L490.4 293.8L491.0 290.5L491.6 292.1L492.2 291.8L492.8 291.9L493.4 290.9L494.0 290.6L494.6 290.6L495.2 290.0L495.8 290.0L496.4 289.6L497.0 289.2L497.6 289.4L498.2 290.7L498.8 288.8L499.4 288.8L500.0 289.2L500.6 288.1L501.2 287.3L501.8 288.5L502.4 289.0L503.0 286.8L503.6 288.1L504.2 287.9L504.8 287.2L505.4 288.6L506.0 287.2L506.6 287.1L507.2 288.9L507.8 286.8L508.4 285.5L509.0 289.1L509.6 288.1L510.2 287.4L510.8 286.6L511.4 287.3L512.0 285.9L512.6 286.8L513.2 286.9L513.8 285.9L514.4 285.2L515.0 285.1L515.6 284.6L516.2 284.8L516.8 284.4L517.4 285.0L518.0 284.8L518.6 284.2L519.2 284.8L519.8 286.4L520.4 284.5L521.0 284.0L521.6 284.6L522.2 282.2L522.8 284.8L523.4 283.7L524.0 283.1L524.6 284.1L525.2 283.1L525.8 282.2L526.4 282.7L527.0 282.0L527.6 282.7L528.2 282.3L528.8 282.3L529.4 281.1L530.0 281.2L530.6 283.5L531.2 284.0L531.8 282.7L532.4 282.6L533.0 282.9L533.6 282.4L534.2 282.2L534.8 279.8L535.4 281.0L536.0 280.5L536.6 278.3L537.2 281.0L537.8 280.4L538.4 282.8L539.0 281.1L539.6 279.5L540.2 279.9L540.8 280.7L541.4 279.3L542.0 280.7L542.6 279.7L543.2 279.5L543.8 279.0L544.4 279.5L545.0 277.6L545.6 277.8L546.2 277.5L546.8 279.5L547.4 277.6L548.0 277.4L548.6 277.4L549.2 276.9L549.8 275.4L550.4 277.0L551.0 275.9L551.6 276.6L552.2 275.7L552.8 277.2L553.4 276.1L554.0 276.9L554.6 275.4L555.2 274.2L555.8 275.7L556.4 274.2L557.0 274.2L557.6 276.5L558.2 274.9L558.8 275.0L559.4 273.4L560.0 272.4L560.6 273.0L561.2 274.8L561.8 272.7L562.4 272.8L563.0 273.5L563.6 269.9L564.2 272.6L564.8 271.7L565.4 270.9L566.0 270.7L566.6 269.9L567.2 270.9L567.8 267.2L568.4 268.3L569.0 268.0L569.6 267.4L570.2 268.3L570.8 266.2L571.4 265.3L572.0 267.7L572.6 264.7L573.2 264.7L573.8 264.7L574.4 262.3L575.0 265.5L575.6 263.0L576.2 262.7L576.8 263.1L577.4 261.8L578.0 260.9L578.6 260.8L579.2 258.6L579.8 259.2L580.4 256.7L581.0 256.3L581.6 256.7L582.2 251.4L582.8 252.4L583.4 250.5L584.0 252.4L584.6 248.4L585.2 248.4L585.8 243.3L586.4 243.1L587.0 243.0L587.6 240.2L588.2 236.4L588.8 237.0L589.4 236.8L590.0 234.9L590.6 233.7L591.2 231.1L591.8 229.4L592.4 228.8L593.0 226.4L593.6 225.0L594.2 223.2L594.8 221.3L595.4 220.5L596.0 218.7L596.6 219.2L597.2 217.0L597.8 215.7L598.4 215.7L599.0 214.8L599.6 215.0L600.2 213.1L600.8 213.6L601.4 214.6L602.0 215.5L602.6 217.3L603.2 218.6L603.8 221.3L604.4 221.2L605.0 223.5L605.6 225.7L606.2 227.9L606.8 231.1L607.4 232.5L608.0 235.4L608.6 238.1L609.2 242.1L609.8 244.3L610.4 246.5L611.0 249.0L611.6 253.5L612.2 255.7L612.8 258.9L613.4 260.7L614.0 260.4L614.6 261.9L615.2 266.2L615.8 266.7L616.4 267.6L617.0 269.1L617.6 269.7L618.2 272.1L618.8 274.7L619.4 274.5L620.0 276.1L620.6 278.1L621.2 280.6L621.8 280.8L622.4 280.6L623.0 280.9L623.6 282.8L624.2 283.2L624.8 283.9L625.4 284.6L626.0 286.2L626.6 285.5L627.2 286.2L627.8 288.1L628.4 284.7L629.0 287.6L629.6 285.9L630.2 288.2L630.8 288.6L631.4 289.3L632.0 288.3L632.6 290.7L633.2 288.2L633.8 289.9L634.4 288.8L635.0 290.6L635.6 290.3L636.2 290.7L636.8 290.4L637.4 291.3L638.0 290.3L638.6 292.0L639.2 292.3L639.8 290.1L640.4 290.9L641.0 289.4L641.6 289.1L642.2 290.7L642.8 291.5L643.4 292.3L644.0 291.4L644.6 291.3L645.2 292.6L645.8 292.5L646.4 291.7L647.0 293.6L647.6 293.2L648.2 290.1L648.8 292.1L649.4 292.3L650.0 293.2L650.6 290.9L651.2 292.0L651.8 291.4L652.4 293.2L653.0 291.1L653.6 293.9L654.2 291.0L654.8 292.2L655.4 290.8L656.0 292.0L656.6 292.1L657.2 293.1L657.8 292.7L658.4 291.9L659.0 291.2L659.6 293.1L660.2 291.2L660.8 292.8L661.4 292.1L662.0 293.8L662.6 292.2L663.2 290.8L663.8 292.6L664.4 291.2L665.0 292.2L665.6 295.5L666.2 293.1L666.8 291.9L667.4 293.4L668.0 293.8L668.6 292.5L669.2 293.5L669.8 291.4L670.4 292.1L671.0 292.7L671.6 293.0L672.2 290.4L672.8 294.0L673.4 294.2L674.0 292.7L674.6 293.4L675.2 293.4L675.8 291.6L676.4 291.4L677.0 295.2L677.6 294.8L678.2 294.0L678.8 293.7L679.4 291.9L680.0 292.3L680.6 292.9L681.2 291.9L681.8 293.7L682.4 292.3L683.0 293.6L683.6 292.7L684.2 293.7L684.8 294.5L685.4 293.4L686.0 293.7L686.6 292.1L687.2 293.2L687.8 291.9L688.4 295.3L689.0 293.7L689.6 293.9L690.2 294.5L690.8 294.1L691.4 294.1L692.0 293.8L692.6 294.2L693.2 294.4L693.8 292.8L694.4 295.2L695.0 293.9L695.6 293.5L696.2 294.7L696.8 294.3L697.4 292.7L698.0 296.0L698.6 293.9L699.2 293.2L699.8 294.2L700.4 294.5L701.0 293.4L701.6 293.3L702.2 295.2L702.8 293.6L703.4 293.8L704.0 294.7L704.6 296.7L705.2 297.6L705.8 295.4L706.4 295.0L707.0 294.8L707.6 292.4L708.2 293.8L708.8 295.6L709.4 292.6L710.0 295.1L710.6 294.6L711.2 296.1L711.8 293.3L712.4 295.1L713.0 294.5L713.6 295.1L714.2 294.0L714.8 294.8L715.4 295.0L716.0 294.3L716.6 294.0L717.2 293.5L717.8 295.5L718.4 294.9L719.0 295.4L719.6 294.6L720.2 294.9L720.8 294.7L721.4 295.0L722.0 293.1L722.6 293.6L723.2 294.4L723.8 294.1L724.4 295.0L725.0 293.5L725.6 296.0L726.2 293.4L726.8 293.8L727.4 294.1L728.0 295.1L728.6 294.2L729.2 292.8L729.8 296.1L730.4 294.5L731.0 294.0L731.6 294.4L732.2 295.1L732.8 294.8L733.4 294.5L734.0 296.4L734.6 293.1L735.2 295.7L735.8 295.9L736.4 294.4L737.0 294.9L737.6 295.7L738.2 295.4L738.8 295.3L739.4 295.5L740.0 295.0L740.6 295.8L741.2 297.0L741.8 295.5L742.4 296.2L743.0 295.0L743.6 295.1L744.2 296.6L744.8 295.2L745.4 294.7L746.0 295.7L746.6 295.8L747.2 294.4L747.8 294.9L748.4 294.0L749.0 294.9L749.6 294.7L750.2 295.8L750.8 294.5L751.4 293.8L752.0 295.5L752.6 295.0L753.2 294.3L753.8 295.7L754.4 294.6L755.0 295.0L755.6 295.6L756.2 294.0L756.8 295.2L757.4 295.9L758.0 294.4L758.6 293.1L759.2 294.9L759.8 295.2L760.4 298.1L761.0 293.0L761.6 292.9L762.2 295.6L762.8 295.1L763.4 295.1L764.0 296.0L764.6 294.2L765.2 295.3L765.8 295.1L766.4 296.0L767.0 295.7L767.6 294.4L768.2 295.7L768.8 294.5L769.4 293.6L770.0 296.0L770.6 294.0L771.2 294.2L771.8 294.6L772.4 294.5L773.0 293.8L773.6 294.2L774.2 293.3L774.8 294.2L775.4 295.2L776.0 296.3L776.6 295.3L777.2 293.9L777.8 295.9L778.4 294.2L779.0 295.7L779.6 295.0L780.2 294.2L780.8 295.8L781.4 295.2L782.0 294.5L782.6 295.0L783.2 295.9L783.8 295.0L784.4 295.1L785.0 295.5L785.6 294.7L786.2 294.5L786.8 294.0L787.4 294.1L788.0 295.9L788.6 294.9L789.2 295.9L789.8 294.5L790.4 294.6L791.0 294.6L791.6 296.1L792.2 295.0L792.8 295.4L793.4 293.9L794.0 295.6L794.6 296.0L795.2 295.1L795.8 295.3L796.4 294.4L797.0 295.1L797.6 295.0L798.2 294.3L798.8 296.8L799.4 294.7L800.0 296.7L800.6 293.2L801.2 296.1L801.8 292.7L802.4 294.7L803.0 294.6L803.6 294.8L804.2 294.2L804.8 295.7L805.4 293.6L806.0 296.7L806.6 295.6L807.2 296.8L807.8 297.0L808.4 295.9L809.0 295.6L809.6 294.6L810.2 296.7L810.8 294.5L811.4 294.3L812.0 295.3L812.6 294.7L813.2 293.9L813.8 295.2L814.4 294.4L815.0 294.7L815.6 295.4L816.2 293.5L816.8 294.4L817.4 295.6L818.0 294.9L818.6 293.9L819.2 294.4L819.8 294.6L820.4 295.7L821.0 294.1L821.6 296.2L822.2 293.7L822.8 296.8L823.4 295.0L824.0 295.5L824.6 295.9L825.0 292.9" stroke="#233da3" stroke-width="1.7"/>
<path class="cv" d="M143.0 385.3L143.6 384.1L144.2 385.7L144.8 383.5L145.4 382.1L146.0 385.0L146.6 382.3L147.2 382.8L147.8 384.0L148.4 383.9L149.0 383.8L149.6 381.4L150.2 382.1L150.8 384.5L151.4 385.2L152.0 381.9L152.6 382.5L153.2 381.6L153.8 382.6L154.4 384.7L155.0 383.1L155.6 381.6L156.2 384.3L156.8 384.0L157.4 381.4L158.0 382.5L158.6 382.9L159.2 382.5L159.8 383.2L160.4 381.6L161.0 383.4L161.6 382.5L162.2 383.9L162.8 381.9L163.4 383.1L164.0 382.9L164.6 382.4L165.2 382.9L165.8 381.9L166.4 382.0L167.0 383.7L167.6 381.9L168.2 382.2L168.8 381.7L169.4 381.2L170.0 381.1L170.6 382.0L171.2 383.0L171.8 382.1L172.4 381.1L173.0 380.1L173.6 382.5L174.2 382.5L174.8 383.9L175.4 381.5L176.0 380.2L176.6 381.3L177.2 383.3L177.8 382.7L178.4 382.4L179.0 381.2L179.6 382.5L180.2 382.6L180.8 383.6L181.4 382.6L182.0 382.4L182.6 382.3L183.2 383.0L183.8 384.2L184.4 381.9L185.0 384.3L185.6 382.7L186.2 383.2L186.8 382.4L187.4 381.4L188.0 381.8L188.6 381.5L189.2 381.1L189.8 382.0L190.4 382.3L191.0 383.4L191.6 381.9L192.2 383.5L192.8 382.7L193.4 382.1L194.0 383.8L194.6 382.4L195.2 383.7L195.8 383.6L196.4 383.2L197.0 382.3L197.6 381.1L198.2 384.2L198.8 383.7L199.4 383.7L200.0 383.9L200.6 383.1L201.2 383.4L201.8 382.7L202.4 385.5L203.0 384.5L203.6 383.6L204.2 383.7L204.8 383.5L205.4 383.6L206.0 383.3L206.6 383.2L207.2 384.7L207.8 384.7L208.4 383.4L209.0 382.7L209.6 383.2L210.2 383.2L210.8 384.4L211.4 383.8L212.0 383.8L212.6 383.7L213.2 384.0L213.8 381.8L214.4 383.5L215.0 385.7L215.6 385.1L216.2 384.2L216.8 382.4L217.4 384.3L218.0 382.5L218.6 384.0L219.2 382.9L219.8 384.7L220.4 384.7L221.0 383.9L221.6 383.2L222.2 383.5L222.8 383.8L223.4 384.6L224.0 383.9L224.6 384.4L225.2 386.3L225.8 384.7L226.4 382.4L227.0 384.2L227.6 385.5L228.2 380.9L228.8 382.8L229.4 383.8L230.0 383.7L230.6 383.1L231.2 384.5L231.8 383.5L232.4 382.9L233.0 384.4L233.6 384.6L234.2 385.0L234.8 383.8L235.4 384.3L236.0 384.3L236.6 382.7L237.2 384.3L237.8 383.4L238.4 384.1L239.0 383.1L239.6 384.5L240.2 384.5L240.8 383.7L241.4 385.0L242.0 381.8L242.6 382.4L243.2 383.3L243.8 384.0L244.4 382.5L245.0 384.9L245.6 384.4L246.2 384.4L246.8 383.7L247.4 382.7L248.0 382.5L248.6 383.0L249.2 384.3L249.8 381.5L250.4 382.9L251.0 385.7L251.6 384.0L252.2 383.5L252.8 382.2L253.4 384.4L254.0 381.6L254.6 383.8L255.2 383.5L255.8 384.2L256.4 384.2L257.0 382.7L257.6 384.6L258.2 383.1L258.8 383.0L259.4 383.6L260.0 383.8L260.6 384.3L261.2 383.9L261.8 382.7L262.4 383.6L263.0 382.4L263.6 385.2L264.2 381.5L264.8 382.8L265.4 383.8L266.0 385.1L266.6 382.0L267.2 383.9L267.8 383.3L268.4 383.8L269.0 383.9L269.6 382.6L270.2 382.0L270.8 384.0L271.4 383.7L272.0 384.2L272.6 383.8L273.2 383.9L273.8 381.1L274.4 381.3L275.0 383.6L275.6 384.4L276.2 383.6L276.8 384.1L277.4 381.2L278.0 381.6L278.6 382.9L279.2 383.2L279.8 382.1L280.4 381.4L281.0 382.8L281.6 383.4L282.2 382.3L282.8 383.0L283.4 385.0L284.0 382.7L284.6 383.0L285.2 384.3L285.8 382.5L286.4 381.9L287.0 382.8L287.6 383.2L288.2 383.5L288.8 382.9L289.4 384.0L290.0 384.3L290.6 383.1L291.2 382.5L291.8 382.2L292.4 383.2L293.0 385.0L293.6 381.4L294.2 382.8L294.8 381.2L295.4 382.3L296.0 382.5L296.6 381.9L297.2 383.0L297.8 383.8L298.4 382.2L299.0 381.7L299.6 382.1L300.2 382.8L300.8 381.6L301.4 382.3L302.0 383.3L302.6 382.8L303.2 384.3L303.8 383.1L304.4 383.7L305.0 381.5L305.6 381.9L306.2 381.0L306.8 381.3L307.4 382.0L308.0 382.7L308.6 381.5L309.2 385.1L309.8 381.6L310.4 382.6L311.0 381.6L311.6 383.8L312.2 382.8L312.8 382.6L313.4 383.6L314.0 382.9L314.6 382.5L315.2 383.4L315.8 383.6L316.4 383.3L317.0 382.9L317.6 384.3L318.2 384.3L318.8 385.1L319.4 384.8L320.0 384.3L320.6 383.7L321.2 384.0L321.8 386.2L322.4 384.6L323.0 384.7L323.6 384.2L324.2 384.6L324.8 386.3L325.4 384.8L326.0 385.4L326.6 385.3L327.2 385.0L327.8 384.2L328.4 385.2L329.0 386.4L329.6 384.8L330.2 385.1L330.8 383.6L331.4 386.5L332.0 386.9L332.6 385.5L333.2 384.5L333.8 386.2L334.4 384.2L335.0 385.2L335.6 385.1L336.2 385.6L336.8 387.2L337.4 387.2L338.0 388.0L338.6 386.5L339.2 386.4L339.8 385.6L340.4 386.9L341.0 387.0L341.6 387.5L342.2 387.0L342.8 385.1L343.4 387.1L344.0 385.9L344.6 388.3L345.2 385.5L345.8 386.4L346.4 388.2L347.0 388.1L347.6 386.5L348.2 387.1L348.8 387.1L349.4 386.8L350.0 385.9L350.6 384.9L351.2 387.3L351.8 387.1L352.4 386.2L353.0 386.4L353.6 385.8L354.2 385.6L354.8 385.5L355.4 387.5L356.0 385.7L356.6 387.0L357.2 385.9L357.8 386.0L358.4 387.0L359.0 385.4L359.6 387.9L360.2 386.1L360.8 386.5L361.4 385.8L362.0 385.3L362.6 384.0L363.2 386.7L363.8 386.8L364.4 386.0L365.0 385.4L365.6 386.3L366.2 386.6L366.8 386.3L367.4 385.6L368.0 386.7L368.6 385.2L369.2 385.5L369.8 386.9L370.4 386.6L371.0 386.2L371.6 386.8L372.2 385.1L372.8 386.9L373.4 385.8L374.0 385.4L374.6 385.3L375.2 386.6L375.8 385.4L376.4 385.6L377.0 386.0L377.6 385.9L378.2 385.4L378.8 386.0L379.4 385.4L380.0 384.3L380.6 387.3L381.2 385.5L381.8 385.6L382.4 387.2L383.0 385.7L383.6 383.6L384.2 385.8L384.8 386.3L385.4 384.3L386.0 387.0L386.6 384.0L387.2 384.6L387.8 384.7L388.4 385.1L389.0 385.0L389.6 384.1L390.2 384.6L390.8 384.8L391.4 384.8L392.0 382.1L392.6 382.8L393.2 381.3L393.8 386.0L394.4 383.8L395.0 384.1L395.6 384.4L396.2 384.6L396.8 384.7L397.4 382.8L398.0 384.3L398.6 383.0L399.2 382.7L399.8 383.2L400.4 382.9L401.0 382.9L401.6 383.0L402.2 382.5L402.8 382.0L403.4 381.3L404.0 382.0L404.6 381.5L405.2 380.8L405.8 382.7L406.4 383.5L407.0 382.9L407.6 381.1L408.2 381.8L408.8 384.5L409.4 382.8L410.0 381.7L410.6 382.5L411.2 380.8L411.8 380.5L412.4 380.8L413.0 383.7L413.6 381.6L414.2 383.2L414.8 383.0L415.4 382.3L416.0 381.8L416.6 382.5L417.2 382.0L417.8 380.3L418.4 382.8L419.0 382.0L419.6 382.8L420.2 381.4L420.8 380.8L421.4 381.5L422.0 381.4L422.6 383.3L423.2 380.4L423.8 382.8L424.4 382.1L425.0 382.0L425.6 381.4L426.2 382.4L426.8 383.2L427.4 382.1L428.0 383.1L428.6 380.8L429.2 381.5L429.8 382.9L430.4 382.2L431.0 380.5L431.6 383.9L432.2 381.4L432.8 383.7L433.4 382.1L434.0 382.3L434.6 382.3L435.2 382.2L435.8 383.4L436.4 382.8L437.0 383.5L437.6 383.4L438.2 384.5L438.8 385.2L439.4 382.9L440.0 381.9L440.6 384.9L441.2 384.1L441.8 384.2L442.4 384.8L443.0 384.6L443.6 384.6L444.2 383.8L444.8 384.7L445.4 384.5L446.0 383.7L446.6 386.3L447.2 386.3L447.8 385.9L448.4 387.5L449.0 386.5L449.6 386.0L450.2 385.6L450.8 386.7L451.4 387.5L452.0 388.2L452.6 387.5L453.2 387.6L453.8 388.5L454.4 386.4L455.0 387.2L455.6 386.7L456.2 385.6L456.8 386.9L457.4 386.9L458.0 388.0L458.6 387.5L459.2 389.1L459.8 387.6L460.4 389.3L461.0 388.1L461.6 389.1L462.2 388.1L462.8 389.2L463.4 386.7L464.0 386.1L464.6 386.6L465.2 386.5L465.8 388.3L466.4 387.2L467.0 388.8L467.6 389.3L468.2 387.0L468.8 386.9L469.4 386.8L470.0 388.1L470.6 388.4L471.2 386.6L471.8 387.8L472.4 385.0L473.0 384.7L473.6 387.1L474.2 385.9L474.8 386.7L475.4 386.4L476.0 385.6L476.6 386.6L477.2 384.7L477.8 384.2L478.4 385.3L479.0 383.5L479.6 384.6L480.2 384.5L480.8 384.1L481.4 384.0L482.0 384.0L482.6 383.1L483.2 381.6L483.8 382.1L484.4 383.2L485.0 382.0L485.6 380.9L486.2 381.0L486.8 381.7L487.4 380.6L488.0 379.5L488.6 380.1L489.2 377.1L489.8 378.1L490.4 377.4L491.0 378.1L491.6 377.4L492.2 377.9L492.8 377.1L493.4 376.9L494.0 376.9L494.6 374.7L495.2 376.6L495.8 375.6L496.4 375.1L497.0 376.8L497.6 375.0L498.2 374.4L498.8 374.1L499.4 374.5L500.0 375.1L500.6 374.9L501.2 373.5L501.8 372.6L502.4 371.4L503.0 374.4L503.6 373.8L504.2 371.3L504.8 371.5L505.4 372.8L506.0 372.1L506.6 371.2L507.2 372.3L507.8 370.0L508.4 369.6L509.0 370.6L509.6 371.2L510.2 369.1L510.8 368.4L511.4 369.9L512.0 369.3L512.6 368.7L513.2 369.1L513.8 368.7L514.4 369.1L515.0 369.1L515.6 368.8L516.2 368.5L516.8 367.7L517.4 367.8L518.0 366.6L518.6 367.0L519.2 365.9L519.8 366.5L520.4 366.3L521.0 366.0L521.6 367.4L522.2 365.9L522.8 362.1L523.4 366.2L524.0 366.7L524.6 365.2L525.2 363.1L525.8 365.6L526.4 363.9L527.0 365.0L527.6 365.7L528.2 363.4L528.8 363.9L529.4 364.4L530.0 364.8L530.6 365.3L531.2 366.0L531.8 362.5L532.4 364.9L533.0 365.1L533.6 362.9L534.2 362.1L534.8 362.5L535.4 364.7L536.0 362.4L536.6 360.7L537.2 361.7L537.8 360.2L538.4 362.3L539.0 363.6L539.6 361.0L540.2 360.2L540.8 361.4L541.4 359.9L542.0 360.4L542.6 360.0L543.2 360.9L543.8 360.6L544.4 360.7L545.0 360.3L545.6 359.8L546.2 358.9L546.8 358.0L547.4 357.2L548.0 357.3L548.6 357.3L549.2 358.5L549.8 356.8L550.4 357.0L551.0 357.3L551.6 356.2L552.2 356.4L552.8 355.7L553.4 354.2L554.0 355.1L554.6 355.9L555.2 353.9L555.8 354.9L556.4 353.3L557.0 353.6L557.6 355.7L558.2 350.7L558.8 353.8L559.4 351.8L560.0 353.4L560.6 352.2L561.2 352.7L561.8 350.8L562.4 352.2L563.0 350.7L563.6 351.1L564.2 350.6L564.8 349.9L565.4 347.5L566.0 349.6L566.6 349.6L567.2 347.4L567.8 347.3L568.4 349.4L569.0 347.7L569.6 345.5L570.2 347.0L570.8 346.3L571.4 346.1L572.0 344.5L572.6 344.5L573.2 345.3L573.8 342.7L574.4 341.7L575.0 342.1L575.6 341.8L576.2 340.6L576.8 341.0L577.4 339.3L578.0 339.3L578.6 336.6L579.2 335.6L579.8 334.3L580.4 331.5L581.0 332.6L581.6 330.8L582.2 329.9L582.8 327.8L583.4 328.1L584.0 325.3L584.6 325.2L585.2 324.1L585.8 321.4L586.4 320.9L587.0 320.8L587.6 317.4L588.2 317.3L588.8 314.3L589.4 315.4L590.0 311.1L590.6 309.0L591.2 309.5L591.8 303.4L592.4 305.5L593.0 302.7L593.6 300.3L594.2 298.3L594.8 296.1L595.4 294.3L596.0 292.7L596.6 290.5L597.2 290.1L597.8 290.3L598.4 287.4L599.0 285.7L599.6 285.4L600.2 286.3L600.8 284.5L601.4 286.7L602.0 286.2L602.6 289.3L603.2 289.6L603.8 291.3L604.4 292.0L605.0 295.3L605.6 299.4L606.2 303.9L606.8 305.4L607.4 307.4L608.0 309.9L608.6 312.8L609.2 317.0L609.8 318.3L610.4 319.5L611.0 323.5L611.6 327.0L612.2 329.7L612.8 332.6L613.4 335.7L614.0 337.8L614.6 338.9L615.2 341.2L615.8 343.6L616.4 346.2L617.0 345.9L617.6 347.3L618.2 351.1L618.8 352.0L619.4 355.4L620.0 354.7L620.6 354.5L621.2 357.7L621.8 357.3L622.4 359.3L623.0 361.1L623.6 361.6L624.2 363.0L624.8 365.3L625.4 363.2L626.0 366.7L626.6 367.0L627.2 366.3L627.8 367.7L628.4 368.9L629.0 370.0L629.6 369.2L630.2 371.3L630.8 371.0L631.4 370.9L632.0 372.1L632.6 371.3L633.2 373.0L633.8 374.2L634.4 374.7L635.0 373.7L635.6 374.6L636.2 373.2L636.8 374.5L637.4 375.4L638.0 376.6L638.6 375.0L639.2 377.0L639.8 374.0L640.4 377.1L641.0 375.2L641.6 375.5L642.2 375.6L642.8 378.1L643.4 378.1L644.0 378.1L644.6 377.5L645.2 375.5L645.8 377.6L646.4 377.6L647.0 379.5L647.6 379.1L648.2 378.4L648.8 379.1L649.4 378.3L650.0 376.8L650.6 377.9L651.2 379.1L651.8 376.8L652.4 381.3L653.0 377.7L653.6 377.9L654.2 382.2L654.8 379.3L655.4 380.5L656.0 381.0L656.6 380.3L657.2 380.4L657.8 380.6L658.4 379.6L659.0 379.7L659.6 380.9L660.2 378.8L660.8 380.1L661.4 379.9L662.0 379.9L662.6 379.3L663.2 382.2L663.8 381.4L664.4 380.4L665.0 379.5L665.6 381.5L666.2 381.3L666.8 381.4L667.4 380.9L668.0 382.3L668.6 381.8L669.2 379.5L669.8 380.3L670.4 379.2L671.0 381.0L671.6 382.8L672.2 383.1L672.8 382.9L673.4 383.8L674.0 380.4L674.6 382.5L675.2 381.7L675.8 381.5L676.4 380.4L677.0 383.2L677.6 382.5L678.2 382.4L678.8 382.9L679.4 380.6L680.0 381.6L680.6 382.1L681.2 381.7L681.8 384.1L682.4 382.9L683.0 384.2L683.6 384.1L684.2 381.7L684.8 381.0L685.4 382.2L686.0 382.5L686.6 381.2L687.2 381.9L687.8 382.6L688.4 381.6L689.0 382.2L689.6 382.5L690.2 383.8L690.8 383.2L691.4 383.8L692.0 384.0L692.6 383.4L693.2 382.9L693.8 382.9L694.4 384.5L695.0 383.4L695.6 382.1L696.2 382.6L696.8 382.2L697.4 383.1L698.0 383.3L698.6 382.5L699.2 382.2L699.8 382.3L700.4 382.3L701.0 382.6L701.6 381.8L702.2 383.5L702.8 383.9L703.4 383.0L704.0 383.9L704.6 383.8L705.2 384.3L705.8 384.8L706.4 383.4L707.0 381.4L707.6 383.0L708.2 383.9L708.8 382.2L709.4 382.7L710.0 382.1L710.6 384.4L711.2 381.9L711.8 383.9L712.4 385.0L713.0 382.5L713.6 382.3L714.2 383.9L714.8 384.0L715.4 382.8L716.0 383.8L716.6 383.7L717.2 384.1L717.8 382.0L718.4 381.8L719.0 383.5L719.6 383.8L720.2 381.1L720.8 383.1L721.4 384.6L722.0 384.2L722.6 383.3L723.2 383.7L723.8 385.6L724.4 383.6L725.0 382.0L725.6 384.3L726.2 383.2L726.8 381.4L727.4 382.3L728.0 382.2L728.6 383.1L729.2 383.0L729.8 381.8L730.4 382.7L731.0 382.8L731.6 381.8L732.2 384.7L732.8 384.1L733.4 382.8L734.0 382.3L734.6 381.5L735.2 384.2L735.8 384.1L736.4 380.5L737.0 383.3L737.6 381.9L738.2 381.6L738.8 383.4L739.4 382.9L740.0 383.6L740.6 383.1L741.2 382.9L741.8 384.3L742.4 381.8L743.0 382.7L743.6 382.9L744.2 382.8L744.8 382.7L745.4 381.1L746.0 382.4L746.6 381.4L747.2 382.1L747.8 384.5L748.4 384.0L749.0 381.7L749.6 382.9L750.2 382.3L750.8 383.2L751.4 382.1L752.0 382.9L752.6 385.0L753.2 383.2L753.8 382.2L754.4 384.6L755.0 384.3L755.6 381.6L756.2 381.9L756.8 383.6L757.4 382.1L758.0 383.0L758.6 382.6L759.2 381.7L759.8 383.0L760.4 381.7L761.0 383.6L761.6 382.7L762.2 381.7L762.8 383.5L763.4 382.8L764.0 382.7L764.6 383.6L765.2 384.2L765.8 383.5L766.4 383.3L767.0 383.3L767.6 382.7L768.2 381.6L768.8 383.6L769.4 381.6L770.0 381.3L770.6 383.6L771.2 382.5L771.8 381.0L772.4 382.4L773.0 382.3L773.6 384.9L774.2 383.2L774.8 383.0L775.4 382.6L776.0 382.7L776.6 383.4L777.2 381.4L777.8 381.7L778.4 380.3L779.0 382.2L779.6 383.3L780.2 382.7L780.8 383.0L781.4 382.3L782.0 383.6L782.6 381.9L783.2 382.8L783.8 380.9L784.4 382.6L785.0 383.7L785.6 382.3L786.2 383.1L786.8 383.0L787.4 381.5L788.0 384.0L788.6 381.0L789.2 382.0L789.8 382.1L790.4 384.0L791.0 382.7L791.6 383.7L792.2 383.2L792.8 382.5L793.4 382.8L794.0 382.9L794.6 381.8L795.2 383.2L795.8 382.9L796.4 382.2L797.0 382.7L797.6 380.2L798.2 382.6L798.8 383.9L799.4 382.4L800.0 383.7L800.6 382.7L801.2 383.5L801.8 381.9L802.4 382.1L803.0 382.9L803.6 382.3L804.2 381.6L804.8 381.5L805.4 381.0L806.0 381.9L806.6 381.5L807.2 382.8L807.8 383.8L808.4 382.8L809.0 382.5L809.6 382.5L810.2 381.4L810.8 381.5L811.4 381.5L812.0 381.9L812.6 380.6L813.2 383.4L813.8 382.6L814.4 384.1L815.0 383.9L815.6 383.6L816.2 381.6L816.8 383.6L817.4 382.1L818.0 381.9L818.6 383.3L819.2 382.5L819.8 383.1L820.4 382.5L821.0 384.8L821.6 381.1L822.2 382.0L822.8 383.2L823.4 382.7L824.0 383.4L824.6 382.6L825.0 382.4" stroke="#e02010" stroke-width="1.7"/>
<path class="cv" d="M143.0 502.9L143.6 502.7L144.2 504.5L144.8 503.5L145.4 503.3L146.0 502.8L146.6 502.5L147.2 504.1L147.8 503.8L148.4 503.3L149.0 503.8L149.6 502.1L150.2 503.3L150.8 504.7L151.4 504.3L152.0 504.2L152.6 503.6L153.2 503.6L153.8 505.1L154.4 504.3L155.0 504.5L155.6 501.9L156.2 504.8L156.8 502.5L157.4 504.0L158.0 502.2L158.6 504.0L159.2 503.6L159.8 501.9L160.4 503.5L161.0 504.4L161.6 503.8L162.2 503.4L162.8 503.8L163.4 503.4L164.0 504.3L164.6 504.2L165.2 502.6L165.8 504.3L166.4 503.8L167.0 503.1L167.6 503.4L168.2 503.6L168.8 503.2L169.4 505.6L170.0 503.8L170.6 502.9L171.2 504.0L171.8 503.6L172.4 502.7L173.0 502.7L173.6 503.4L174.2 504.2L174.8 503.0L175.4 504.7L176.0 504.3L176.6 503.0L177.2 502.7L177.8 504.8L178.4 504.9L179.0 503.7L179.6 503.8L180.2 503.9L180.8 504.6L181.4 503.4L182.0 505.0L182.6 501.1L183.2 504.7L183.8 503.0L184.4 502.9L185.0 504.2L185.6 503.5L186.2 503.5L186.8 502.8L187.4 504.5L188.0 505.1L188.6 503.6L189.2 504.9L189.8 504.9L190.4 503.8L191.0 502.0L191.6 504.6L192.2 505.9L192.8 503.8L193.4 503.3L194.0 504.9L194.6 503.6L195.2 504.3L195.8 504.3L196.4 505.5L197.0 503.6L197.6 505.1L198.2 504.2L198.8 503.9L199.4 505.5L200.0 505.4L200.6 506.6L201.2 504.4L201.8 506.1L202.4 506.2L203.0 505.5L203.6 504.9L204.2 506.2L204.8 504.9L205.4 505.9L206.0 505.8L206.6 505.0L207.2 504.7L207.8 504.7L208.4 506.2L209.0 505.8L209.6 505.7L210.2 506.7L210.8 505.9L211.4 504.3L212.0 505.7L212.6 505.5L213.2 506.4L213.8 506.7L214.4 507.6L215.0 507.1L215.6 506.6L216.2 507.6L216.8 505.9L217.4 508.2L218.0 508.3L218.6 505.8L219.2 507.2L219.8 506.9L220.4 506.8L221.0 506.0L221.6 508.0L222.2 508.1L222.8 507.9L223.4 508.5L224.0 506.9L224.6 506.8L225.2 505.6L225.8 506.9L226.4 507.4L227.0 506.5L227.6 509.2L228.2 508.1L228.8 507.7L229.4 509.0L230.0 507.6L230.6 508.2L231.2 508.3L231.8 508.1L232.4 507.9L233.0 506.9L233.6 508.5L234.2 507.7L234.8 506.9L235.4 509.5L236.0 507.7L236.6 507.6L237.2 509.0L237.8 506.7L238.4 508.7L239.0 508.2L239.6 506.8L240.2 509.2L240.8 509.4L241.4 508.2L242.0 508.1L242.6 506.9L243.2 508.2L243.8 508.5L244.4 508.0L245.0 507.0L245.6 508.0L246.2 508.1L246.8 507.9L247.4 506.5L248.0 507.2L248.6 506.9L249.2 507.4L249.8 508.1L250.4 505.9L251.0 508.0L251.6 506.7L252.2 507.6L252.8 508.7L253.4 507.0L254.0 506.4L254.6 506.2L255.2 506.2L255.8 506.8L256.4 507.6L257.0 506.2L257.6 506.5L258.2 508.0L258.8 509.0L259.4 507.3L260.0 507.3L260.6 506.7L261.2 507.6L261.8 507.7L262.4 505.6L263.0 506.2L263.6 506.1L264.2 507.1L264.8 507.2L265.4 506.6L266.0 506.7L266.6 507.8L267.2 505.4L267.8 506.4L268.4 505.3L269.0 507.3L269.6 505.0L270.2 506.0L270.8 507.1L271.4 506.0L272.0 507.1L272.6 505.1L273.2 505.9L273.8 507.8L274.4 506.2L275.0 506.4L275.6 505.5L276.2 504.3L276.8 504.8L277.4 505.7L278.0 505.8L278.6 503.5L279.2 506.2L279.8 505.8L280.4 506.0L281.0 505.2L281.6 505.9L282.2 504.3L282.8 504.1L283.4 504.7L284.0 506.8L284.6 505.2L285.2 505.4L285.8 505.4L286.4 505.4L287.0 504.0L287.6 506.1L288.2 505.3L288.8 505.6L289.4 504.9L290.0 506.1L290.6 505.3L291.2 505.4L291.8 506.4L292.4 505.4L293.0 504.7L293.6 506.8L294.2 504.9L294.8 504.4L295.4 506.3L296.0 505.5L296.6 504.3L297.2 506.8L297.8 506.4L298.4 507.1L299.0 505.0L299.6 505.5L300.2 505.7L300.8 506.3L301.4 504.8L302.0 507.8L302.6 505.7L303.2 506.6L303.8 507.2L304.4 504.9L305.0 507.6L305.6 508.0L306.2 505.8L306.8 505.9L307.4 507.0L308.0 508.1L308.6 506.2L309.2 507.8L309.8 506.8L310.4 507.7L311.0 509.0L311.6 507.8L312.2 508.1L312.8 507.4L313.4 508.7L314.0 507.9L314.6 508.1L315.2 508.8L315.8 508.4L316.4 509.4L317.0 507.8L317.6 508.7L318.2 508.1L318.8 509.6L319.4 508.8L320.0 509.2L320.6 511.4L321.2 510.3L321.8 509.1L322.4 509.7L323.0 510.9L323.6 511.3L324.2 509.2L324.8 510.3L325.4 510.6L326.0 509.0L326.6 510.4L327.2 512.5L327.8 511.6L328.4 510.5L329.0 512.4L329.6 511.7L330.2 512.5L330.8 508.5L331.4 510.4L332.0 510.5L332.6 512.3L333.2 511.7L333.8 511.3L334.4 511.1L335.0 510.6L335.6 508.5L336.2 510.9L336.8 512.5L337.4 513.3L338.0 513.7L338.6 511.6L339.2 511.5L339.8 513.4L340.4 514.3L341.0 512.2L341.6 512.1L342.2 513.6L342.8 511.3L343.4 513.1L344.0 512.0L344.6 514.6L345.2 513.2L345.8 513.7L346.4 514.3L347.0 513.0L347.6 514.0L348.2 512.8L348.8 513.4L349.4 514.4L350.0 514.2L350.6 514.0L351.2 514.9L351.8 515.4L352.4 515.3L353.0 513.5L353.6 515.0L354.2 514.2L354.8 513.3L355.4 514.1L356.0 513.0L356.6 514.1L357.2 514.6L357.8 513.4L358.4 514.4L359.0 514.8L359.6 514.6L360.2 513.7L360.8 513.7L361.4 513.9L362.0 511.9L362.6 512.9L363.2 513.6L363.8 513.6L364.4 513.4L365.0 512.1L365.6 513.8L366.2 514.5L366.8 513.3L367.4 511.2L368.0 513.8L368.6 512.8L369.2 512.4L369.8 512.5L370.4 513.1L371.0 514.1L371.6 512.9L372.2 513.0L372.8 511.4L373.4 512.6L374.0 512.5L374.6 512.4L375.2 512.6L375.8 510.8L376.4 511.0L377.0 510.4L377.6 511.6L378.2 511.5L378.8 512.3L379.4 511.0L380.0 509.3L380.6 509.5L381.2 509.2L381.8 508.0L382.4 509.0L383.0 511.2L383.6 508.7L384.2 508.8L384.8 508.5L385.4 508.7L386.0 507.7L386.6 509.8L387.2 506.7L387.8 508.2L388.4 508.3L389.0 507.9L389.6 508.7L390.2 506.4L390.8 508.3L391.4 506.2L392.0 507.2L392.6 506.6L393.2 506.6L393.8 505.3L394.4 506.2L395.0 506.2L395.6 506.1L396.2 505.3L396.8 505.9L397.4 504.6L398.0 504.2L398.6 504.1L399.2 506.7L399.8 502.1L400.4 504.1L401.0 503.4L401.6 504.3L402.2 503.1L402.8 504.4L403.4 505.7L404.0 502.1L404.6 505.0L405.2 503.4L405.8 504.0L406.4 503.3L407.0 504.7L407.6 502.1L408.2 503.2L408.8 502.3L409.4 501.4L410.0 500.2L410.6 502.2L411.2 503.1L411.8 502.5L412.4 503.9L413.0 503.2L413.6 504.0L414.2 503.0L414.8 502.1L415.4 500.2L416.0 503.8L416.6 502.5L417.2 505.0L417.8 503.5L418.4 502.0L419.0 504.0L419.6 504.4L420.2 503.6L420.8 503.3L421.4 504.5L422.0 504.8L422.6 504.6L423.2 502.8L423.8 502.7L424.4 505.3L425.0 504.5L425.6 504.8L426.2 503.9L426.8 505.9L427.4 505.2L428.0 505.9L428.6 504.9L429.2 503.4L429.8 505.0L430.4 505.1L431.0 504.7L431.6 504.7L432.2 505.2L432.8 505.3L433.4 506.1L434.0 504.8L434.6 506.8L435.2 505.3L435.8 505.0L436.4 506.3L437.0 507.7L437.6 507.2L438.2 506.6L438.8 506.7L439.4 508.1L440.0 507.3L440.6 509.2L441.2 508.6L441.8 509.1L442.4 508.0L443.0 508.0L443.6 509.5L444.2 510.5L444.8 513.5L445.4 509.0L446.0 510.7L446.6 513.6L447.2 511.0L447.8 510.8L448.4 512.0L449.0 511.3L449.6 513.2L450.2 513.2L450.8 514.0L451.4 516.3L452.0 515.1L452.6 516.5L453.2 518.3L453.8 514.3L454.4 514.4L455.0 515.9L455.6 516.2L456.2 515.6L456.8 516.2L457.4 517.1L458.0 517.4L458.6 516.2L459.2 516.4L459.8 518.5L460.4 516.2L461.0 516.7L461.6 515.4L462.2 515.5L462.8 514.4L463.4 516.7L464.0 515.7L464.6 516.8L465.2 515.1L465.8 516.7L466.4 515.4L467.0 515.1L467.6 517.9L468.2 516.1L468.8 516.9L469.4 515.9L470.0 515.8L470.6 516.5L471.2 515.5L471.8 517.1L472.4 516.7L473.0 517.2L473.6 517.6L474.2 518.0L474.8 515.6L475.4 517.3L476.0 516.6L476.6 517.0L477.2 512.9L477.8 514.7L478.4 512.8L479.0 513.8L479.6 511.4L480.2 511.8L480.8 511.8L481.4 510.6L482.0 510.3L482.6 506.6L483.2 507.6L483.8 507.8L484.4 506.2L485.0 506.2L485.6 504.2L486.2 502.6L486.8 502.2L487.4 502.8L488.0 501.5L488.6 501.9L489.2 501.0L489.8 500.6L490.4 499.3L491.0 497.2L491.6 497.6L492.2 495.3L492.8 496.4L493.4 495.6L494.0 495.6L494.6 494.8L495.2 494.8L495.8 494.3L496.4 494.0L497.0 492.0L497.6 493.0L498.2 491.8L498.8 490.2L499.4 490.9L500.0 490.2L500.6 488.8L501.2 487.9L501.8 488.3L502.4 486.8L503.0 486.5L503.6 486.5L504.2 487.4L504.8 487.2L505.4 485.7L506.0 485.7L506.6 485.6L507.2 483.1L507.8 485.0L508.4 483.5L509.0 484.3L509.6 484.3L510.2 481.7L510.8 483.1L511.4 482.5L512.0 483.1L512.6 483.4L513.2 482.9L513.8 480.5L514.4 479.7L515.0 480.1L515.6 479.7L516.2 479.3L516.8 480.5L517.4 479.3L518.0 479.5L518.6 475.4L519.2 478.2L519.8 477.9L520.4 478.6L521.0 477.0L521.6 475.8L522.2 476.3L522.8 476.7L523.4 476.9L524.0 475.0L524.6 475.8L525.2 475.9L525.8 473.8L526.4 475.1L527.0 473.9L527.6 472.9L528.2 473.5L528.8 473.5L529.4 472.7L530.0 473.0L530.6 474.0L531.2 472.8L531.8 472.9L532.4 474.0L533.0 469.2L533.6 471.5L534.2 472.6L534.8 471.4L535.4 471.7L536.0 469.9L536.6 471.0L537.2 469.7L537.8 470.8L538.4 470.7L539.0 468.1L539.6 471.8L540.2 468.2L540.8 468.1L541.4 467.4L542.0 466.5L542.6 467.9L543.2 467.5L543.8 466.7L544.4 468.2L545.0 464.9L545.6 466.5L546.2 466.1L546.8 465.5L547.4 466.0L548.0 465.4L548.6 464.3L549.2 464.2L549.8 464.1L550.4 463.0L551.0 463.7L551.6 463.5L552.2 464.0L552.8 462.0L553.4 462.8L554.0 462.2L554.6 460.9L555.2 461.7L555.8 458.7L556.4 459.4L557.0 459.9L557.6 459.3L558.2 457.8L558.8 458.5L559.4 460.3L560.0 457.9L560.6 456.8L561.2 457.0L561.8 455.7L562.4 455.4L563.0 455.3L563.6 455.4L564.2 454.7L564.8 455.1L565.4 452.7L566.0 450.7L566.6 451.7L567.2 453.3L567.8 450.4L568.4 450.8L569.0 449.4L569.6 449.5L570.2 448.6L570.8 446.8L571.4 447.6L572.0 446.6L572.6 446.5L573.2 445.5L573.8 446.7L574.4 442.1L575.0 443.8L575.6 442.5L576.2 442.3L576.8 439.9L577.4 440.4L578.0 437.7L578.6 434.9L579.2 433.3L579.8 433.2L580.4 431.1L581.0 428.6L581.6 428.2L582.2 426.0L582.8 425.7L583.4 422.7L584.0 420.0L584.6 418.1L585.2 417.0L585.8 415.6L586.4 413.2L587.0 409.5L587.6 407.8L588.2 406.4L588.8 403.4L589.4 402.4L590.0 399.7L590.6 399.3L591.2 395.9L591.8 393.1L592.4 391.0L593.0 389.3L593.6 387.3L594.2 386.7L594.8 383.4L595.4 381.6L596.0 380.9L596.6 378.4L597.2 378.2L597.8 374.8L598.4 375.4L599.0 372.9L599.6 373.0L600.2 372.4L600.8 372.3L601.4 376.2L602.0 375.5L602.6 377.8L603.2 379.9L603.8 382.9L604.4 382.1L605.0 389.7L605.6 395.7L606.2 396.9L606.8 401.6L607.4 402.8L608.0 406.9L608.6 412.6L609.2 416.4L609.8 419.2L610.4 425.1L611.0 431.8L611.6 436.0L612.2 438.9L612.8 442.8L613.4 446.9L614.0 447.9L614.6 451.4L615.2 451.9L615.8 454.5L616.4 455.3L617.0 457.4L617.6 459.5L618.2 462.0L618.8 463.1L619.4 464.8L620.0 467.0L620.6 469.3L621.2 473.5L621.8 475.5L622.4 477.2L623.0 479.3L623.6 480.2L624.2 481.7L624.8 481.4L625.4 482.4L626.0 484.9L626.6 484.4L627.2 484.6L627.8 485.5L628.4 485.4L629.0 486.9L629.6 487.2L630.2 489.2L630.8 489.3L631.4 488.4L632.0 490.2L632.6 489.7L633.2 490.6L633.8 490.1L634.4 491.6L635.0 491.6L635.6 491.5L636.2 493.2L636.8 492.3L637.4 492.0L638.0 493.9L638.6 495.0L639.2 493.9L639.8 492.3L640.4 494.3L641.0 493.8L641.6 496.6L642.2 495.6L642.8 496.2L643.4 495.8L644.0 497.7L644.6 494.4L645.2 495.8L645.8 494.9L646.4 496.4L647.0 496.8L647.6 498.0L648.2 498.5L648.8 499.4L649.4 498.4L650.0 498.4L650.6 497.5L651.2 497.2L651.8 497.2L652.4 497.0L653.0 499.9L653.6 499.0L654.2 500.2L654.8 499.0L655.4 499.7L656.0 499.2L656.6 499.0L657.2 499.2L657.8 500.8L658.4 498.5L659.0 500.4L659.6 500.3L660.2 501.6L660.8 499.7L661.4 500.9L662.0 499.3L662.6 500.8L663.2 500.9L663.8 500.7L664.4 500.4L665.0 500.4L665.6 501.6L666.2 500.2L666.8 500.6L667.4 502.7L668.0 501.6L668.6 501.8L669.2 501.9L669.8 500.6L670.4 500.1L671.0 501.3L671.6 502.5L672.2 501.0L672.8 500.3L673.4 502.4L674.0 500.1L674.6 501.2L675.2 500.5L675.8 499.3L676.4 500.8L677.0 499.6L677.6 501.8L678.2 501.3L678.8 501.7L679.4 500.2L680.0 500.3L680.6 502.0L681.2 501.3L681.8 501.5L682.4 503.1L683.0 501.7L683.6 503.0L684.2 500.5L684.8 500.9L685.4 502.4L686.0 502.1L686.6 501.2L687.2 502.6L687.8 501.9L688.4 501.2L689.0 502.0L689.6 501.7L690.2 502.8L690.8 500.1L691.4 501.5L692.0 503.1L692.6 501.0L693.2 500.9L693.8 503.5L694.4 501.6L695.0 501.4L695.6 503.8L696.2 503.4L696.8 502.8L697.4 502.0L698.0 502.5L698.6 502.1L699.2 500.6L699.8 501.7L700.4 503.0L701.0 502.8L701.6 502.3L702.2 501.6L702.8 503.8L703.4 502.2L704.0 503.6L704.6 503.6L705.2 503.4L705.8 504.0L706.4 504.0L707.0 502.4L707.6 503.9L708.2 503.3L708.8 501.8L709.4 503.6L710.0 502.2L710.6 502.4L711.2 503.5L711.8 502.0L712.4 502.0L713.0 502.8L713.6 502.9L714.2 503.1L714.8 504.1L715.4 502.6L716.0 502.8L716.6 503.1L717.2 502.5L717.8 504.0L718.4 504.5L719.0 503.0L719.6 501.8L720.2 503.0L720.8 502.1L721.4 501.1L722.0 503.0L722.6 503.3L723.2 503.0L723.8 503.2L724.4 503.1L725.0 502.7L725.6 501.9L726.2 504.4L726.8 503.1L727.4 502.1L728.0 502.4L728.6 503.0L729.2 502.8L729.8 501.2L730.4 502.9L731.0 503.6L731.6 501.1L732.2 503.5L732.8 503.3L733.4 500.8L734.0 502.3L734.6 502.6L735.2 504.2L735.8 504.3L736.4 502.8L737.0 502.8L737.6 503.1L738.2 503.2L738.8 502.8L739.4 503.1L740.0 501.8L740.6 501.6L741.2 503.2L741.8 504.2L742.4 502.0L743.0 501.8L743.6 504.6L744.2 502.1L744.8 504.4L745.4 503.7L746.0 502.1L746.6 502.9L747.2 502.7L747.8 501.1L748.4 505.0L749.0 504.1L749.6 504.1L750.2 503.5L750.8 504.2L751.4 503.4L752.0 503.7L752.6 503.8L753.2 503.1L753.8 503.4L754.4 503.3L755.0 503.0L755.6 503.3L756.2 502.6L756.8 502.7L757.4 503.8L758.0 505.2L758.6 503.9L759.2 504.2L759.8 503.5L760.4 503.0L761.0 502.0L761.6 504.0L762.2 503.1L762.8 504.5L763.4 501.2L764.0 502.8L764.6 504.1L765.2 504.0L765.8 502.2L766.4 502.0L767.0 502.5L767.6 502.9L768.2 503.0L768.8 502.7L769.4 504.9L770.0 502.3L770.6 503.2L771.2 504.2L771.8 504.1L772.4 503.7L773.0 504.2L773.6 502.8L774.2 503.7L774.8 503.0L775.4 502.5L776.0 504.1L776.6 502.0L777.2 503.0L777.8 502.8L778.4 502.6L779.0 503.3L779.6 501.7L780.2 502.7L780.8 503.9L781.4 502.2L782.0 502.3L782.6 503.8L783.2 503.1L783.8 502.4L784.4 503.4L785.0 501.2L785.6 502.0L786.2 502.4L786.8 504.7L787.4 505.0L788.0 505.0L788.6 503.9L789.2 505.7L789.8 503.9L790.4 503.6L791.0 503.7L791.6 501.9L792.2 502.6L792.8 503.2L793.4 503.4L794.0 500.0L794.6 504.2L795.2 503.9L795.8 502.8L796.4 502.9L797.0 504.1L797.6 502.2L798.2 502.5L798.8 503.1L799.4 504.9L800.0 503.0L800.6 504.3L801.2 501.9L801.8 503.1L802.4 502.5L803.0 501.7L803.6 502.9L804.2 504.1L804.8 503.3L805.4 502.8L806.0 503.3L806.6 502.9L807.2 502.6L807.8 502.5L808.4 502.7L809.0 503.7L809.6 502.1L810.2 504.4L810.8 503.3L811.4 502.8L812.0 505.0L812.6 505.2L813.2 503.7L813.8 503.4L814.4 503.9L815.0 501.7L815.6 503.7L816.2 502.9L816.8 503.5L817.4 502.7L818.0 503.4L818.6 501.6L819.2 503.6L819.8 504.6L820.4 503.5L821.0 502.6L821.6 501.9L822.2 503.0L822.8 502.5L823.4 502.5L824.0 504.3L824.6 503.9L825.0 502.8" stroke="#000000" stroke-width="1.7"/>
</g>
<rect class="fr" x="142.5" y="23.1" width="683.1" height="508.7"/>
<path class="fr" d="M142.5 531.8V543.4M199.4 531.8V538.4M256.4 531.8V543.4M313.3 531.8V538.4M370.2 531.8V543.4M427.1 531.8V538.4M484.1 531.8V543.4M541.0 531.8V538.4M597.9 531.8V543.4M654.8 531.8V538.4M711.8 531.8V543.4M768.7 531.8V538.4M825.6 531.8V543.4M142.5 32.5H131.1M142.5 125.0H131.1M142.5 217.4H131.1M142.5 309.9H131.1M142.5 402.3H131.1M142.5 494.8H131.1M142.5 78.7H136.1M142.5 171.2H136.1M142.5 263.7H136.1M142.5 356.1H136.1M142.5 448.6H136.1"/>
<text class="tick" text-anchor="middle" transform="translate(142.7 571.4)">-200</text>
<text class="tick" text-anchor="middle" transform="translate(256.6 571.4)">-150</text>
<text class="tick" text-anchor="middle" transform="translate(370.4 571.4)">-100</text>
<text class="tick" text-anchor="middle" transform="translate(484.2 571.4)">-50</text>
<text class="tick" text-anchor="middle" transform="translate(598.1 571.4)">0</text>
<text class="tick" text-anchor="middle" transform="translate(712.0 571.4)">50</text>
<text class="tick" text-anchor="middle" transform="translate(825.8 571.4)">100</text>
<text class="tick" text-anchor="end" transform="translate(124.9 40.4)">0.12</text>
<text class="tick" text-anchor="end" transform="translate(124.9 132.9)">0.10</text>
<text class="tick" text-anchor="end" transform="translate(124.9 225.3)">0.08</text>
<text class="tick" text-anchor="end" transform="translate(124.9 317.8)">0.06</text>
<text class="tick" text-anchor="end" transform="translate(124.9 410.2)">0.04</text>
<text class="tick" text-anchor="end" transform="translate(124.9 502.7)">0.02</text>
<clipPath id="cb"><rect x="1062.4" y="23.6" width="682.9" height="508.5"/></clipPath>
<g clip-path="url(#cb)">
<path class="cv" d="M1062.0 67.8L1063.0 67.8L1064.0 67.9L1065.0 67.9L1066.0 67.9L1067.0 68.0L1068.0 68.0L1069.0 68.1L1070.0 68.1L1071.0 68.1L1072.0 68.1L1073.0 68.2L1074.0 68.2L1075.0 68.2L1076.0 68.3L1077.0 68.3L1078.0 68.3L1079.0 68.4L1080.0 68.4L1081.0 68.4L1082.0 68.4L1083.0 68.5L1084.0 68.5L1085.0 68.5L1086.0 68.5L1087.0 68.5L1088.0 68.6L1089.0 68.6L1090.0 68.6L1091.0 68.6L1092.0 68.6L1093.0 68.6L1094.0 68.6L1095.0 68.7L1096.0 68.7L1097.0 68.7L1098.0 68.7L1099.0 68.7L1100.0 68.7L1101.0 68.7L1102.0 68.7L1103.0 68.7L1104.0 68.7L1105.0 68.7L1106.0 68.7L1107.0 68.7L1108.0 68.7L1109.0 68.7L1110.0 68.7L1111.0 68.7L1112.0 68.7L1113.0 68.7L1114.0 68.7L1115.0 68.7L1116.0 68.6L1117.0 68.6L1118.0 68.6L1119.0 68.6L1120.0 68.6L1121.0 68.6L1122.0 68.6L1123.0 68.6L1124.0 68.6L1125.0 68.5L1126.0 68.5L1127.0 68.5L1128.0 68.5L1129.0 68.5L1130.0 68.5L1131.0 68.5L1132.0 68.4L1133.0 68.4L1134.0 68.4L1135.0 68.4L1136.0 68.4L1137.0 68.4L1138.0 68.4L1139.0 68.3L1140.0 68.3L1141.0 68.3L1142.0 68.3L1143.0 68.3L1144.0 68.3L1145.0 68.3L1146.0 68.2L1147.0 68.2L1148.0 68.2L1149.0 68.2L1150.0 68.2L1151.0 68.2L1152.0 68.2L1153.0 68.1L1154.0 68.1L1155.0 68.1L1156.0 68.1L1157.0 68.1L1158.0 68.1L1159.0 68.1L1160.0 68.1L1161.0 68.0L1162.0 68.0L1163.0 68.0L1164.0 68.0L1165.0 68.0L1166.0 68.0L1167.0 68.0L1168.0 68.0L1169.0 68.0L1170.0 68.0L1171.0 68.0L1172.0 68.0L1173.0 68.0L1174.0 68.0L1175.0 68.0L1176.0 68.0L1177.0 68.0L1178.0 68.0L1179.0 68.0L1180.0 68.0L1181.0 68.0L1182.0 68.1L1183.0 68.1L1184.0 68.1L1185.0 68.1L1186.0 68.1L1187.0 68.1L1188.0 68.1L1189.0 68.2L1190.0 68.2L1191.0 68.2L1192.0 68.2L1193.0 68.2L1194.0 68.2L1195.0 68.3L1196.0 68.3L1197.0 68.3L1198.0 68.3L1199.0 68.3L1200.0 68.4L1201.0 68.4L1202.0 68.4L1203.0 68.4L1204.0 68.4L1205.0 68.4L1206.0 68.5L1207.0 68.5L1208.0 68.5L1209.0 68.5L1210.0 68.5L1211.0 68.5L1212.0 68.5L1213.0 68.6L1214.0 68.6L1215.0 68.6L1216.0 68.6L1217.0 68.6L1218.0 68.6L1219.0 68.6L1220.0 68.6L1221.0 68.6L1222.0 68.6L1223.0 68.6L1224.0 68.6L1225.0 68.6L1226.0 68.6L1227.0 68.6L1228.0 68.6L1229.0 68.6L1230.0 68.6L1231.0 68.6L1232.0 68.6L1233.0 68.5L1234.0 68.5L1235.0 68.5L1236.0 68.5L1237.0 68.5L1238.0 68.4L1239.0 68.4L1240.0 68.4L1241.0 68.4L1242.0 68.3L1243.0 68.3L1244.0 68.2L1245.0 68.1L1246.0 68.0L1247.0 68.0L1248.0 67.9L1249.0 67.8L1250.0 67.7L1251.0 67.6L1252.0 67.5L1253.0 67.4L1254.0 67.3L1255.0 67.2L1256.0 67.1L1257.0 67.1L1258.0 67.0L1259.0 66.9L1260.0 66.8L1261.0 66.8L1262.0 66.7L1263.0 66.7L1264.0 66.6L1265.0 66.6L1266.0 66.5L1267.0 66.5L1268.0 66.4L1269.0 66.4L1270.0 66.3L1271.0 66.2L1272.0 66.2L1273.0 66.1L1274.0 66.0L1275.0 65.9L1276.0 65.8L1277.0 65.8L1278.0 65.7L1279.0 65.6L1280.0 65.5L1281.0 65.4L1282.0 65.4L1283.0 65.3L1284.0 65.2L1285.0 65.2L1286.0 65.2L1287.0 65.2L1288.0 65.2L1289.0 65.3L1290.0 65.4L1291.0 65.5L1292.0 65.6L1293.0 65.8L1294.0 65.9L1295.0 66.0L1296.0 66.2L1297.0 66.3L1298.0 66.5L1299.0 66.7L1300.0 66.9L1301.0 67.1L1302.0 67.3L1303.0 67.6L1304.0 67.9L1305.0 68.3L1306.0 68.7L1307.0 69.1L1308.0 69.5L1309.0 69.9L1310.0 70.3L1311.0 70.8L1312.0 71.2L1313.0 71.5L1314.0 71.9L1315.0 72.2L1316.0 72.6L1317.0 72.9L1318.0 73.2L1319.0 73.5L1320.0 73.8L1321.0 74.0L1322.0 74.3L1323.0 74.5L1324.0 74.6L1325.0 74.8L1326.0 74.9L1327.0 74.9L1328.0 75.0L1329.0 75.0L1330.0 75.0L1331.0 75.0L1332.0 74.9L1333.0 74.8L1334.0 74.7L1335.0 74.6L1336.0 74.5L1337.0 74.4L1338.0 74.2L1339.0 74.0L1340.0 73.9L1341.0 73.6L1342.0 73.4L1343.0 73.2L1344.0 72.9L1345.0 72.7L1346.0 72.4L1347.0 72.1L1348.0 71.7L1349.0 71.4L1350.0 71.0L1351.0 70.6L1352.0 70.1L1353.0 69.6L1354.0 69.1L1355.0 68.4L1356.0 67.7L1357.0 66.9L1358.0 66.1L1359.0 65.3L1360.0 64.5L1361.0 63.7L1362.0 63.0L1363.0 62.4L1364.0 61.8L1365.0 61.2L1366.0 60.7L1367.0 60.2L1368.0 59.8L1369.0 59.5L1370.0 59.3L1371.0 59.3L1372.0 59.4L1373.0 59.6L1374.0 59.9L1375.0 60.2L1376.0 60.5L1377.0 60.9L1378.0 61.4L1379.0 61.9L1380.0 62.2L1381.0 62.2L1382.0 62.1L1383.0 61.9L1384.0 61.7L1385.0 61.5L1386.0 61.4L1387.0 61.3L1388.0 61.3L1389.0 61.4L1390.0 61.8L1391.0 62.3L1392.0 63.0L1393.0 63.8L1394.0 64.6L1395.0 65.5L1396.0 66.3L1397.0 67.1L1398.0 68.0L1399.0 68.8L1400.0 69.7L1401.0 70.5L1402.0 71.4L1403.0 72.2L1404.0 73.1L1405.0 73.9L1406.0 74.7L1407.0 75.4L1408.0 76.0L1409.0 76.6L1410.0 77.2L1411.0 77.7L1412.0 78.3L1413.0 78.8L1414.0 79.3L1415.0 79.7L1416.0 80.2L1417.0 80.6L1418.0 80.9L1419.0 81.2L1420.0 81.5L1421.0 81.8L1422.0 82.1L1423.0 82.4L1424.0 82.6L1425.0 82.9L1426.0 83.1L1427.0 83.3L1428.0 83.5L1429.0 83.7L1430.0 83.8L1431.0 84.0L1432.0 84.2L1433.0 84.3L1434.0 84.5L1435.0 84.7L1436.0 84.8L1437.0 85.0L1438.0 85.1L1439.0 85.3L1440.0 85.4L1441.0 85.5L1442.0 85.7L1443.0 85.8L1444.0 85.9L1445.0 86.0L1446.0 86.2L1447.0 86.3L1448.0 86.4L1449.0 86.5L1450.0 86.7L1451.0 86.8L1452.0 86.9L1453.0 87.0L1454.0 87.2L1455.0 87.3L1456.0 87.4L1457.0 87.6L1458.0 87.7L1459.0 87.8L1460.0 88.0L1461.0 88.1L1462.0 88.2L1463.0 88.4L1464.0 88.5L1465.0 88.6L1466.0 88.8L1467.0 88.9L1468.0 89.0L1469.0 89.2L1470.0 89.3L1471.0 89.4L1472.0 89.5L1473.0 89.6L1474.0 89.7L1475.0 89.8L1476.0 89.9L1477.0 90.0L1478.0 90.1L1479.0 90.2L1480.0 90.3L1481.0 90.4L1482.0 90.4L1483.0 90.5L1484.0 90.5L1485.0 90.6L1486.0 90.6L1487.0 90.6L1488.0 90.6L1489.0 90.5L1490.0 90.4L1491.0 90.2L1492.0 90.0L1493.0 89.7L1494.0 89.4L1495.0 89.1L1496.0 88.7L1497.0 88.2L1498.0 87.6L1499.0 86.9L1500.0 86.1L1501.0 85.1L1502.0 84.1L1503.0 82.9L1504.0 81.6L1505.0 80.2L1506.0 78.8L1507.0 77.4L1508.0 75.9L1509.0 74.4L1510.0 73.0L1511.0 71.7L1512.0 70.5L1513.0 69.8L1514.0 69.6L1515.0 69.7L1516.0 70.2L1517.0 71.5L1518.0 73.4L1519.0 75.4L1520.0 77.5L1521.0 79.7L1522.0 81.8L1523.0 83.8L1524.0 85.7L1525.0 87.4L1526.0 88.6L1527.0 89.4L1528.0 90.0L1529.0 90.4L1530.0 90.6L1531.0 90.5L1532.0 90.3L1533.0 90.1L1534.0 89.6L1535.0 89.0L1536.0 88.5L1537.0 87.9L1538.0 87.4L1539.0 86.8L1540.0 86.2L1541.0 85.7L1542.0 85.1L1543.0 84.5L1544.0 84.0L1545.0 83.4L1546.0 82.8L1547.0 82.3L1548.0 81.8L1549.0 81.3L1550.0 80.8L1551.0 80.3L1552.0 79.9L1553.0 79.4L1554.0 79.0L1555.0 78.6L1556.0 78.2L1557.0 77.8L1558.0 77.4L1559.0 77.1L1560.0 76.8L1561.0 76.5L1562.0 76.2L1563.0 75.9L1564.0 75.6L1565.0 75.4L1566.0 75.2L1567.0 74.9L1568.0 74.7L1569.0 74.6L1570.0 74.4L1571.0 74.2L1572.0 74.1L1573.0 73.9L1574.0 73.8L1575.0 73.6L1576.0 73.5L1577.0 73.4L1578.0 73.2L1579.0 73.1L1580.0 73.0L1581.0 72.9L1582.0 72.8L1583.0 72.7L1584.0 72.6L1585.0 72.5L1586.0 72.4L1587.0 72.3L1588.0 72.3L1589.0 72.2L1590.0 72.1L1591.0 72.0L1592.0 72.0L1593.0 71.9L1594.0 71.8L1595.0 71.7L1596.0 71.7L1597.0 71.6L1598.0 71.5L1599.0 71.5L1600.0 71.4L1601.0 71.3L1602.0 71.3L1603.0 71.2L1604.0 71.1L1605.0 71.1L1606.0 71.0L1607.0 71.0L1608.0 70.9L1609.0 70.9L1610.0 70.8L1611.0 70.8L1612.0 70.7L1613.0 70.7L1614.0 70.7L1615.0 70.6L1616.0 70.6L1617.0 70.5L1618.0 70.5L1619.0 70.4L1620.0 70.4L1621.0 70.4L1622.0 70.3L1623.0 70.3L1624.0 70.3L1625.0 70.3L1626.0 70.2L1627.0 70.2L1628.0 70.2L1629.0 70.2L1630.0 70.1L1631.0 70.1L1632.0 70.1L1633.0 70.1L1634.0 70.1L1635.0 70.0L1636.0 70.0L1637.0 70.0L1638.0 70.0L1639.0 70.0L1640.0 69.9L1641.0 69.9L1642.0 69.9L1643.0 69.9L1644.0 69.9L1645.0 69.9L1646.0 69.8L1647.0 69.8L1648.0 69.8L1649.0 69.8L1650.0 69.8L1651.0 69.7L1652.0 69.7L1653.0 69.7L1654.0 69.7L1655.0 69.7L1656.0 69.7L1657.0 69.6L1658.0 69.6L1659.0 69.6L1660.0 69.6L1661.0 69.6L1662.0 69.6L1663.0 69.5L1664.0 69.5L1665.0 69.5L1666.0 69.5L1667.0 69.5L1668.0 69.5L1669.0 69.5L1670.0 69.4L1671.0 69.4L1672.0 69.4L1673.0 69.4L1674.0 69.4L1675.0 69.4L1676.0 69.4L1677.0 69.3L1678.0 69.3L1679.0 69.3L1680.0 69.3L1681.0 69.3L1682.0 69.3L1683.0 69.3L1684.0 69.3L1685.0 69.3L1686.0 69.2L1687.0 69.2L1688.0 69.2L1689.0 69.2L1690.0 69.2L1691.0 69.2L1692.0 69.2L1693.0 69.2L1694.0 69.2L1695.0 69.2L1696.0 69.1L1697.0 69.1L1698.0 69.1L1699.0 69.1L1700.0 69.1L1701.0 69.1L1702.0 69.1L1703.0 69.1L1704.0 69.1L1705.0 69.1L1706.0 69.0L1707.0 69.0L1708.0 69.0L1709.0 69.0L1710.0 69.0L1711.0 69.0L1712.0 69.0L1713.0 69.0L1714.0 69.0L1715.0 69.0L1716.0 69.0L1717.0 69.0L1718.0 68.9L1719.0 68.9L1720.0 68.9L1721.0 68.9L1722.0 68.9L1723.0 68.9L1724.0 68.9L1725.0 68.9L1726.0 68.9L1727.0 68.9L1728.0 68.9L1729.0 68.9L1730.0 68.9L1731.0 68.9L1732.0 68.9L1733.0 68.9L1734.0 68.8L1735.0 68.8L1736.0 68.8L1737.0 68.8L1738.0 68.8L1739.0 68.8L1740.0 68.8L1741.0 68.8L1742.0 68.8L1743.0 68.8L1744.0 68.8L1745.0 68.8" stroke="#ac78d0" stroke-width="2.4"/>
<path class="cv" d="M1062.0 195.4L1063.0 195.4L1064.0 195.5L1065.0 195.5L1066.0 195.5L1067.0 195.5L1068.0 195.6L1069.0 195.6L1070.0 195.6L1071.0 195.7L1072.0 195.7L1073.0 195.7L1074.0 195.7L1075.0 195.7L1076.0 195.8L1077.0 195.8L1078.0 195.8L1079.0 195.8L1080.0 195.9L1081.0 195.9L1082.0 195.9L1083.0 195.9L1084.0 195.9L1085.0 195.9L1086.0 196.0L1087.0 196.0L1088.0 196.0L1089.0 196.0L1090.0 196.0L1091.0 196.0L1092.0 196.0L1093.0 196.0L1094.0 196.1L1095.0 196.1L1096.0 196.1L1097.0 196.1L1098.0 196.1L1099.0 196.1L1100.0 196.1L1101.0 196.1L1102.0 196.1L1103.0 196.1L1104.0 196.1L1105.0 196.1L1106.0 196.1L1107.0 196.1L1108.0 196.1L1109.0 196.1L1110.0 196.1L1111.0 196.1L1112.0 196.1L1113.0 196.1L1114.0 196.1L1115.0 196.1L1116.0 196.1L1117.0 196.0L1118.0 196.0L1119.0 196.0L1120.0 196.0L1121.0 196.0L1122.0 196.0L1123.0 196.0L1124.0 196.0L1125.0 196.0L1126.0 196.0L1127.0 195.9L1128.0 195.9L1129.0 195.9L1130.0 195.9L1131.0 195.9L1132.0 195.9L1133.0 195.9L1134.0 195.9L1135.0 195.8L1136.0 195.8L1137.0 195.8L1138.0 195.8L1139.0 195.8L1140.0 195.8L1141.0 195.8L1142.0 195.7L1143.0 195.7L1144.0 195.7L1145.0 195.7L1146.0 195.7L1147.0 195.7L1148.0 195.6L1149.0 195.6L1150.0 195.6L1151.0 195.6L1152.0 195.6L1153.0 195.6L1154.0 195.6L1155.0 195.5L1156.0 195.5L1157.0 195.5L1158.0 195.5L1159.0 195.5L1160.0 195.5L1161.0 195.5L1162.0 195.4L1163.0 195.4L1164.0 195.4L1165.0 195.4L1166.0 195.4L1167.0 195.4L1168.0 195.4L1169.0 195.3L1170.0 195.3L1171.0 195.3L1172.0 195.3L1173.0 195.3L1174.0 195.3L1175.0 195.3L1176.0 195.3L1177.0 195.3L1178.0 195.3L1179.0 195.2L1180.0 195.2L1181.0 195.2L1182.0 195.2L1183.0 195.2L1184.0 195.2L1185.0 195.2L1186.0 195.2L1187.0 195.2L1188.0 195.2L1189.0 195.2L1190.0 195.2L1191.0 195.2L1192.0 195.2L1193.0 195.2L1194.0 195.2L1195.0 195.2L1196.0 195.2L1197.0 195.2L1198.0 195.2L1199.0 195.2L1200.0 195.2L1201.0 195.2L1202.0 195.3L1203.0 195.3L1204.0 195.3L1205.0 195.3L1206.0 195.3L1207.0 195.3L1208.0 195.3L1209.0 195.3L1210.0 195.3L1211.0 195.3L1212.0 195.4L1213.0 195.4L1214.0 195.4L1215.0 195.4L1216.0 195.4L1217.0 195.4L1218.0 195.4L1219.0 195.4L1220.0 195.4L1221.0 195.5L1222.0 195.5L1223.0 195.5L1224.0 195.5L1225.0 195.5L1226.0 195.5L1227.0 195.5L1228.0 195.5L1229.0 195.5L1230.0 195.6L1231.0 195.6L1232.0 195.6L1233.0 195.6L1234.0 195.6L1235.0 195.6L1236.0 195.6L1237.0 195.6L1238.0 195.6L1239.0 195.6L1240.0 195.6L1241.0 195.6L1242.0 195.6L1243.0 195.6L1244.0 195.6L1245.0 195.6L1246.0 195.5L1247.0 195.5L1248.0 195.5L1249.0 195.5L1250.0 195.4L1251.0 195.4L1252.0 195.4L1253.0 195.3L1254.0 195.3L1255.0 195.2L1256.0 195.2L1257.0 195.2L1258.0 195.1L1259.0 195.1L1260.0 195.0L1261.0 195.0L1262.0 195.0L1263.0 194.9L1264.0 194.9L1265.0 194.8L1266.0 194.8L1267.0 194.7L1268.0 194.7L1269.0 194.7L1270.0 194.6L1271.0 194.6L1272.0 194.6L1273.0 194.5L1274.0 194.5L1275.0 194.5L1276.0 194.5L1277.0 194.4L1278.0 194.4L1279.0 194.4L1280.0 194.4L1281.0 194.4L1282.0 194.4L1283.0 194.4L1284.0 194.4L1285.0 194.4L1286.0 194.5L1287.0 194.5L1288.0 194.6L1289.0 194.6L1290.0 194.7L1291.0 194.7L1292.0 194.8L1293.0 194.9L1294.0 194.9L1295.0 195.0L1296.0 195.1L1297.0 195.2L1298.0 195.2L1299.0 195.3L1300.0 195.4L1301.0 195.5L1302.0 195.6L1303.0 195.6L1304.0 195.7L1305.0 195.8L1306.0 195.9L1307.0 196.1L1308.0 196.2L1309.0 196.3L1310.0 196.5L1311.0 196.6L1312.0 196.8L1313.0 196.9L1314.0 197.1L1315.0 197.3L1316.0 197.4L1317.0 197.6L1318.0 197.7L1319.0 197.9L1320.0 198.0L1321.0 198.1L1322.0 198.3L1323.0 198.4L1324.0 198.5L1325.0 198.6L1326.0 198.6L1327.0 198.7L1328.0 198.7L1329.0 198.8L1330.0 198.8L1331.0 198.8L1332.0 198.8L1333.0 198.8L1334.0 198.8L1335.0 198.7L1336.0 198.7L1337.0 198.6L1338.0 198.5L1339.0 198.4L1340.0 198.3L1341.0 198.2L1342.0 198.1L1343.0 197.9L1344.0 197.8L1345.0 197.6L1346.0 197.5L1347.0 197.3L1348.0 197.1L1349.0 196.9L1350.0 196.6L1351.0 196.4L1352.0 196.1L1353.0 195.9L1354.0 195.6L1355.0 195.3L1356.0 194.9L1357.0 194.6L1358.0 194.3L1359.0 194.0L1360.0 193.6L1361.0 193.3L1362.0 193.0L1363.0 192.8L1364.0 192.5L1365.0 192.2L1366.0 192.0L1367.0 191.7L1368.0 191.5L1369.0 191.4L1370.0 191.2L1371.0 191.2L1372.0 191.2L1373.0 191.4L1374.0 191.6L1375.0 191.8L1376.0 192.1L1377.0 192.4L1378.0 192.6L1379.0 192.8L1380.0 192.9L1381.0 192.9L1382.0 192.9L1383.0 192.8L1384.0 192.7L1385.0 192.5L1386.0 192.5L1387.0 192.4L1388.0 192.5L1389.0 192.6L1390.0 192.9L1391.0 193.2L1392.0 193.5L1393.0 193.8L1394.0 194.1L1395.0 194.4L1396.0 194.8L1397.0 195.1L1398.0 195.4L1399.0 195.8L1400.0 196.1L1401.0 196.4L1402.0 196.7L1403.0 197.0L1404.0 197.3L1405.0 197.6L1406.0 197.9L1407.0 198.2L1408.0 198.5L1409.0 198.8L1410.0 199.0L1411.0 199.3L1412.0 199.6L1413.0 199.8L1414.0 200.0L1415.0 200.2L1416.0 200.4L1417.0 200.6L1418.0 200.7L1419.0 200.8L1420.0 200.9L1421.0 201.0L1422.0 201.1L1423.0 201.1L1424.0 201.2L1425.0 201.2L1426.0 201.3L1427.0 201.3L1428.0 201.3L1429.0 201.3L1430.0 201.3L1431.0 201.2L1432.0 201.2L1433.0 201.2L1434.0 201.2L1435.0 201.1L1436.0 201.1L1437.0 201.1L1438.0 201.1L1439.0 201.0L1440.0 201.0L1441.0 201.0L1442.0 201.0L1443.0 200.9L1444.0 200.9L1445.0 200.9L1446.0 200.9L1447.0 200.8L1448.0 200.8L1449.0 200.8L1450.0 200.7L1451.0 200.7L1452.0 200.7L1453.0 200.6L1454.0 200.6L1455.0 200.5L1456.0 200.4L1457.0 200.4L1458.0 200.3L1459.0 200.2L1460.0 200.1L1461.0 200.0L1462.0 199.9L1463.0 199.8L1464.0 199.7L1465.0 199.5L1466.0 199.4L1467.0 199.3L1468.0 199.2L1469.0 199.0L1470.0 198.9L1471.0 198.7L1472.0 198.6L1473.0 198.4L1474.0 198.2L1475.0 198.1L1476.0 197.9L1477.0 197.7L1478.0 197.5L1479.0 197.3L1480.0 197.0L1481.0 196.8L1482.0 196.4L1483.0 196.1L1484.0 195.7L1485.0 195.2L1486.0 194.8L1487.0 194.4L1488.0 193.8L1489.0 193.3L1490.0 192.6L1491.0 191.9L1492.0 191.2L1493.0 190.4L1494.0 189.6L1495.0 188.7L1496.0 187.7L1497.0 186.5L1498.0 184.9L1499.0 183.2L1500.0 181.3L1501.0 179.3L1502.0 177.3L1503.0 175.3L1504.0 173.2L1505.0 171.0L1506.0 168.8L1507.0 166.3L1508.0 163.6L1509.0 161.1L1510.0 158.9L1511.0 157.0L1512.0 155.3L1513.0 154.2L1514.0 153.9L1515.0 154.0L1516.0 154.8L1517.0 156.5L1518.0 159.1L1519.0 162.0L1520.0 165.2L1521.0 168.8L1522.0 172.4L1523.0 176.0L1524.0 179.5L1525.0 183.1L1526.0 186.6L1527.0 189.4L1528.0 191.6L1529.0 193.4L1530.0 195.0L1531.0 196.4L1532.0 197.6L1533.0 198.4L1534.0 199.1L1535.0 199.7L1536.0 200.1L1537.0 200.4L1538.0 200.7L1539.0 200.9L1540.0 201.0L1541.0 201.0L1542.0 200.9L1543.0 200.8L1544.0 200.7L1545.0 200.6L1546.0 200.5L1547.0 200.3L1548.0 200.2L1549.0 200.1L1550.0 200.0L1551.0 199.8L1552.0 199.7L1553.0 199.6L1554.0 199.4L1555.0 199.3L1556.0 199.2L1557.0 199.0L1558.0 198.9L1559.0 198.8L1560.0 198.7L1561.0 198.5L1562.0 198.4L1563.0 198.3L1564.0 198.3L1565.0 198.2L1566.0 198.1L1567.0 198.0L1568.0 197.9L1569.0 197.9L1570.0 197.8L1571.0 197.8L1572.0 197.7L1573.0 197.6L1574.0 197.6L1575.0 197.5L1576.0 197.5L1577.0 197.4L1578.0 197.4L1579.0 197.3L1580.0 197.2L1581.0 197.2L1582.0 197.1L1583.0 197.1L1584.0 197.0L1585.0 197.0L1586.0 196.9L1587.0 196.8L1588.0 196.8L1589.0 196.7L1590.0 196.7L1591.0 196.7L1592.0 196.6L1593.0 196.6L1594.0 196.5L1595.0 196.5L1596.0 196.5L1597.0 196.4L1598.0 196.4L1599.0 196.4L1600.0 196.3L1601.0 196.3L1602.0 196.3L1603.0 196.3L1604.0 196.2L1605.0 196.2L1606.0 196.2L1607.0 196.1L1608.0 196.1L1609.0 196.1L1610.0 196.1L1611.0 196.0L1612.0 196.0L1613.0 196.0L1614.0 196.0L1615.0 195.9L1616.0 195.9L1617.0 195.9L1618.0 195.9L1619.0 195.9L1620.0 195.8L1621.0 195.8L1622.0 195.8L1623.0 195.8L1624.0 195.8L1625.0 195.7L1626.0 195.7L1627.0 195.7L1628.0 195.7L1629.0 195.7L1630.0 195.7L1631.0 195.7L1632.0 195.6L1633.0 195.6L1634.0 195.6L1635.0 195.6L1636.0 195.6L1637.0 195.6L1638.0 195.6L1639.0 195.6L1640.0 195.5L1641.0 195.5L1642.0 195.5L1643.0 195.5L1644.0 195.5L1645.0 195.5L1646.0 195.5L1647.0 195.5L1648.0 195.5L1649.0 195.5L1650.0 195.4L1651.0 195.4L1652.0 195.4L1653.0 195.4L1654.0 195.4L1655.0 195.4L1656.0 195.4L1657.0 195.4L1658.0 195.4L1659.0 195.4L1660.0 195.4L1661.0 195.4L1662.0 195.4L1663.0 195.3L1664.0 195.3L1665.0 195.3L1666.0 195.3L1667.0 195.3L1668.0 195.3L1669.0 195.3L1670.0 195.3L1671.0 195.3L1672.0 195.3L1673.0 195.3L1674.0 195.3L1675.0 195.3L1676.0 195.3L1677.0 195.3L1678.0 195.3L1679.0 195.3L1680.0 195.3L1681.0 195.3L1682.0 195.3L1683.0 195.3L1684.0 195.3L1685.0 195.3L1686.0 195.3L1687.0 195.3L1688.0 195.3L1689.0 195.3L1690.0 195.3L1691.0 195.3L1692.0 195.3L1693.0 195.3L1694.0 195.3L1695.0 195.3L1696.0 195.3L1697.0 195.3L1698.0 195.3L1699.0 195.3L1700.0 195.3L1701.0 195.3L1702.0 195.3L1703.0 195.3L1704.0 195.3L1705.0 195.3L1706.0 195.3L1707.0 195.3L1708.0 195.3L1709.0 195.3L1710.0 195.3L1711.0 195.3L1712.0 195.3L1713.0 195.3L1714.0 195.3L1715.0 195.3L1716.0 195.3L1717.0 195.3L1718.0 195.3L1719.0 195.3L1720.0 195.3L1721.0 195.3L1722.0 195.3L1723.0 195.4L1724.0 195.4L1725.0 195.4L1726.0 195.4L1727.0 195.4L1728.0 195.4L1729.0 195.4L1730.0 195.4L1731.0 195.4L1732.0 195.4L1733.0 195.4L1734.0 195.4L1735.0 195.4L1736.0 195.4L1737.0 195.4L1738.0 195.4L1739.0 195.5L1740.0 195.5L1741.0 195.5L1742.0 195.5L1743.0 195.5L1744.0 195.5L1745.0 195.5" stroke="#5aad72" stroke-width="2.4"/>
<path class="cv" d="M1062.0 311.5L1063.0 311.5L1064.0 311.5L1065.0 311.6L1066.0 311.6L1067.0 311.6L1068.0 311.6L1069.0 311.6L1070.0 311.7L1071.0 311.7L1072.0 311.7L1073.0 311.7L1074.0 311.7L1075.0 311.8L1076.0 311.8L1077.0 311.8L1078.0 311.8L1079.0 311.8L1080.0 311.9L1081.0 311.9L1082.0 311.9L1083.0 311.9L1084.0 311.9L1085.0 311.9L1086.0 312.0L1087.0 312.0L1088.0 312.0L1089.0 312.0L1090.0 312.0L1091.0 312.0L1092.0 312.0L1093.0 312.1L1094.0 312.1L1095.0 312.1L1096.0 312.1L1097.0 312.1L1098.0 312.1L1099.0 312.1L1100.0 312.2L1101.0 312.2L1102.0 312.2L1103.0 312.2L1104.0 312.2L1105.0 312.2L1106.0 312.2L1107.0 312.2L1108.0 312.3L1109.0 312.3L1110.0 312.3L1111.0 312.3L1112.0 312.3L1113.0 312.3L1114.0 312.3L1115.0 312.3L1116.0 312.3L1117.0 312.3L1118.0 312.4L1119.0 312.4L1120.0 312.4L1121.0 312.4L1122.0 312.4L1123.0 312.4L1124.0 312.4L1125.0 312.4L1126.0 312.4L1127.0 312.4L1128.0 312.4L1129.0 312.4L1130.0 312.5L1131.0 312.5L1132.0 312.5L1133.0 312.5L1134.0 312.5L1135.0 312.5L1136.0 312.5L1137.0 312.5L1138.0 312.5L1139.0 312.5L1140.0 312.5L1141.0 312.5L1142.0 312.5L1143.0 312.5L1144.0 312.5L1145.0 312.5L1146.0 312.5L1147.0 312.5L1148.0 312.5L1149.0 312.5L1150.0 312.5L1151.0 312.6L1152.0 312.6L1153.0 312.6L1154.0 312.6L1155.0 312.6L1156.0 312.6L1157.0 312.6L1158.0 312.6L1159.0 312.6L1160.0 312.6L1161.0 312.6L1162.0 312.6L1163.0 312.6L1164.0 312.6L1165.0 312.6L1166.0 312.6L1167.0 312.6L1168.0 312.6L1169.0 312.6L1170.0 312.6L1171.0 312.6L1172.0 312.6L1173.0 312.6L1174.0 312.6L1175.0 312.6L1176.0 312.6L1177.0 312.6L1178.0 312.6L1179.0 312.6L1180.0 312.6L1181.0 312.6L1182.0 312.6L1183.0 312.6L1184.0 312.6L1185.0 312.6L1186.0 312.6L1187.0 312.6L1188.0 312.5L1189.0 312.5L1190.0 312.5L1191.0 312.5L1192.0 312.5L1193.0 312.5L1194.0 312.5L1195.0 312.5L1196.0 312.5L1197.0 312.5L1198.0 312.5L1199.0 312.5L1200.0 312.5L1201.0 312.5L1202.0 312.5L1203.0 312.5L1204.0 312.5L1205.0 312.5L1206.0 312.5L1207.0 312.5L1208.0 312.5L1209.0 312.5L1210.0 312.5L1211.0 312.5L1212.0 312.4L1213.0 312.4L1214.0 312.4L1215.0 312.4L1216.0 312.4L1217.0 312.4L1218.0 312.4L1219.0 312.4L1220.0 312.4L1221.0 312.4L1222.0 312.4L1223.0 312.4L1224.0 312.4L1225.0 312.4L1226.0 312.4L1227.0 312.3L1228.0 312.3L1229.0 312.3L1230.0 312.3L1231.0 312.3L1232.0 312.3L1233.0 312.3L1234.0 312.3L1235.0 312.3L1236.0 312.3L1237.0 312.3L1238.0 312.3L1239.0 312.3L1240.0 312.2L1241.0 312.2L1242.0 312.2L1243.0 312.2L1244.0 312.2L1245.0 312.2L1246.0 312.2L1247.0 312.2L1248.0 312.2L1249.0 312.2L1250.0 312.2L1251.0 312.1L1252.0 312.1L1253.0 312.1L1254.0 312.1L1255.0 312.1L1256.0 312.1L1257.0 312.1L1258.0 312.1L1259.0 312.1L1260.0 312.1L1261.0 312.0L1262.0 312.0L1263.0 312.0L1264.0 312.0L1265.0 312.0L1266.0 312.0L1267.0 312.0L1268.0 312.0L1269.0 312.0L1270.0 311.9L1271.0 311.9L1272.0 311.9L1273.0 311.9L1274.0 311.9L1275.0 311.9L1276.0 311.9L1277.0 311.9L1278.0 311.9L1279.0 311.9L1280.0 311.8L1281.0 311.8L1282.0 311.8L1283.0 311.8L1284.0 311.8L1285.0 311.8L1286.0 311.8L1287.0 311.8L1288.0 311.7L1289.0 311.7L1290.0 311.7L1291.0 311.7L1292.0 311.7L1293.0 311.7L1294.0 311.7L1295.0 311.6L1296.0 311.6L1297.0 311.6L1298.0 311.5L1299.0 311.5L1300.0 311.5L1301.0 311.4L1302.0 311.4L1303.0 311.3L1304.0 311.3L1305.0 311.2L1306.0 311.1L1307.0 311.1L1308.0 311.0L1309.0 311.0L1310.0 310.9L1311.0 310.8L1312.0 310.8L1313.0 310.7L1314.0 310.7L1315.0 310.6L1316.0 310.6L1317.0 310.5L1318.0 310.5L1319.0 310.4L1320.0 310.4L1321.0 310.3L1322.0 310.3L1323.0 310.3L1324.0 310.3L1325.0 310.2L1326.0 310.2L1327.0 310.2L1328.0 310.2L1329.0 310.2L1330.0 310.2L1331.0 310.2L1332.0 310.3L1333.0 310.3L1334.0 310.3L1335.0 310.4L1336.0 310.4L1337.0 310.5L1338.0 310.6L1339.0 310.6L1340.0 310.7L1341.0 310.8L1342.0 310.9L1343.0 310.9L1344.0 311.0L1345.0 311.1L1346.0 311.2L1347.0 311.2L1348.0 311.3L1349.0 311.4L1350.0 311.5L1351.0 311.5L1352.0 311.6L1353.0 311.6L1354.0 311.7L1355.0 311.7L1356.0 311.8L1357.0 311.8L1358.0 311.9L1359.0 311.9L1360.0 311.9L1361.0 312.0L1362.0 312.0L1363.0 312.0L1364.0 312.1L1365.0 312.1L1366.0 312.1L1367.0 312.1L1368.0 312.2L1369.0 312.2L1370.0 312.2L1371.0 312.2L1372.0 312.3L1373.0 312.3L1374.0 312.3L1375.0 312.3L1376.0 312.3L1377.0 312.3L1378.0 312.3L1379.0 312.3L1380.0 312.4L1381.0 312.3L1382.0 312.3L1383.0 312.3L1384.0 312.3L1385.0 312.3L1386.0 312.3L1387.0 312.3L1388.0 312.2L1389.0 312.2L1390.0 312.1L1391.0 312.1L1392.0 312.1L1393.0 312.0L1394.0 311.9L1395.0 311.9L1396.0 311.8L1397.0 311.7L1398.0 311.6L1399.0 311.5L1400.0 311.4L1401.0 311.3L1402.0 311.2L1403.0 311.0L1404.0 310.9L1405.0 310.7L1406.0 310.6L1407.0 310.4L1408.0 310.2L1409.0 310.1L1410.0 309.9L1411.0 309.7L1412.0 309.5L1413.0 309.3L1414.0 309.1L1415.0 308.9L1416.0 308.7L1417.0 308.5L1418.0 308.3L1419.0 308.1L1420.0 307.8L1421.0 307.6L1422.0 307.4L1423.0 307.2L1424.0 307.1L1425.0 306.9L1426.0 306.8L1427.0 306.6L1428.0 306.5L1429.0 306.3L1430.0 306.2L1431.0 306.0L1432.0 305.9L1433.0 305.7L1434.0 305.6L1435.0 305.4L1436.0 305.3L1437.0 305.1L1438.0 305.0L1439.0 304.8L1440.0 304.7L1441.0 304.5L1442.0 304.4L1443.0 304.2L1444.0 304.1L1445.0 303.9L1446.0 303.8L1447.0 303.6L1448.0 303.5L1449.0 303.3L1450.0 303.2L1451.0 303.0L1452.0 302.8L1453.0 302.7L1454.0 302.5L1455.0 302.3L1456.0 302.2L1457.0 302.0L1458.0 301.8L1459.0 301.6L1460.0 301.3L1461.0 301.1L1462.0 300.8L1463.0 300.5L1464.0 300.2L1465.0 299.8L1466.0 299.5L1467.0 299.1L1468.0 298.8L1469.0 298.4L1470.0 298.1L1471.0 297.7L1472.0 297.3L1473.0 296.9L1474.0 296.5L1475.0 296.1L1476.0 295.6L1477.0 295.2L1478.0 294.7L1479.0 294.2L1480.0 293.7L1481.0 293.2L1482.0 292.7L1483.0 292.2L1484.0 291.6L1485.0 291.0L1486.0 290.3L1487.0 289.6L1488.0 288.9L1489.0 288.0L1490.0 286.9L1491.0 285.8L1492.0 284.6L1493.0 283.3L1494.0 282.0L1495.0 280.7L1496.0 279.2L1497.0 277.6L1498.0 275.7L1499.0 273.5L1500.0 271.0L1501.0 268.1L1502.0 265.0L1503.0 261.7L1504.0 258.3L1505.0 254.8L1506.0 251.2L1507.0 247.5L1508.0 243.5L1509.0 239.5L1510.0 235.5L1511.0 232.2L1512.0 229.4L1513.0 227.5L1514.0 226.9L1515.0 227.4L1516.0 228.8L1517.0 231.5L1518.0 235.4L1519.0 239.8L1520.0 244.8L1521.0 249.9L1522.0 255.0L1523.0 260.1L1524.0 265.1L1525.0 270.1L1526.0 275.0L1527.0 279.4L1528.0 283.3L1529.0 286.7L1530.0 289.6L1531.0 292.2L1532.0 294.4L1533.0 296.3L1534.0 298.1L1535.0 299.8L1536.0 301.3L1537.0 302.7L1538.0 303.8L1539.0 304.6L1540.0 305.3L1541.0 305.9L1542.0 306.6L1543.0 307.1L1544.0 307.6L1545.0 308.1L1546.0 308.4L1547.0 308.7L1548.0 309.0L1549.0 309.2L1550.0 309.4L1551.0 309.6L1552.0 309.8L1553.0 310.0L1554.0 310.1L1555.0 310.3L1556.0 310.5L1557.0 310.6L1558.0 310.7L1559.0 310.8L1560.0 310.9L1561.0 310.9L1562.0 310.9L1563.0 311.0L1564.0 311.0L1565.0 311.0L1566.0 311.0L1567.0 311.0L1568.0 311.1L1569.0 311.1L1570.0 311.1L1571.0 311.1L1572.0 311.2L1573.0 311.2L1574.0 311.2L1575.0 311.2L1576.0 311.2L1577.0 311.3L1578.0 311.3L1579.0 311.3L1580.0 311.3L1581.0 311.3L1582.0 311.3L1583.0 311.3L1584.0 311.4L1585.0 311.4L1586.0 311.4L1587.0 311.4L1588.0 311.4L1589.0 311.4L1590.0 311.4L1591.0 311.4L1592.0 311.4L1593.0 311.4L1594.0 311.4L1595.0 311.4L1596.0 311.4L1597.0 311.4L1598.0 311.4L1599.0 311.4L1600.0 311.4L1601.0 311.4L1602.0 311.4L1603.0 311.4L1604.0 311.4L1605.0 311.4L1606.0 311.4L1607.0 311.4L1608.0 311.4L1609.0 311.4L1610.0 311.4L1611.0 311.5L1612.0 311.5L1613.0 311.5L1614.0 311.5L1615.0 311.5L1616.0 311.5L1617.0 311.5L1618.0 311.5L1619.0 311.5L1620.0 311.5L1621.0 311.5L1622.0 311.5L1623.0 311.5L1624.0 311.5L1625.0 311.5L1626.0 311.5L1627.0 311.5L1628.0 311.5L1629.0 311.5L1630.0 311.5L1631.0 311.5L1632.0 311.5L1633.0 311.5L1634.0 311.5L1635.0 311.5L1636.0 311.5L1637.0 311.5L1638.0 311.5L1639.0 311.5L1640.0 311.5L1641.0 311.5L1642.0 311.5L1643.0 311.5L1644.0 311.5L1645.0 311.6L1646.0 311.6L1647.0 311.6L1648.0 311.6L1649.0 311.6L1650.0 311.6L1651.0 311.6L1652.0 311.6L1653.0 311.6L1654.0 311.6L1655.0 311.6L1656.0 311.6L1657.0 311.6L1658.0 311.6L1659.0 311.6L1660.0 311.6L1661.0 311.6L1662.0 311.6L1663.0 311.6L1664.0 311.6L1665.0 311.6L1666.0 311.6L1667.0 311.6L1668.0 311.6L1669.0 311.6L1670.0 311.6L1671.0 311.6L1672.0 311.6L1673.0 311.6L1674.0 311.6L1675.0 311.6L1676.0 311.6L1677.0 311.6L1678.0 311.6L1679.0 311.6L1680.0 311.6L1681.0 311.6L1682.0 311.6L1683.0 311.6L1684.0 311.6L1685.0 311.6L1686.0 311.6L1687.0 311.6L1688.0 311.6L1689.0 311.6L1690.0 311.6L1691.0 311.6L1692.0 311.6L1693.0 311.6L1694.0 311.6L1695.0 311.6L1696.0 311.6L1697.0 311.6L1698.0 311.6L1699.0 311.6L1700.0 311.6L1701.0 311.6L1702.0 311.6L1703.0 311.6L1704.0 311.6L1705.0 311.6L1706.0 311.6L1707.0 311.6L1708.0 311.6L1709.0 311.6L1710.0 311.6L1711.0 311.6L1712.0 311.6L1713.0 311.6L1714.0 311.6L1715.0 311.6L1716.0 311.6L1717.0 311.6L1718.0 311.6L1719.0 311.6L1720.0 311.6L1721.0 311.6L1722.0 311.5L1723.0 311.5L1724.0 311.5L1725.0 311.5L1726.0 311.5L1727.0 311.5L1728.0 311.5L1729.0 311.5L1730.0 311.5L1731.0 311.5L1732.0 311.5L1733.0 311.5L1734.0 311.5L1735.0 311.5L1736.0 311.5L1737.0 311.5L1738.0 311.5L1739.0 311.4L1740.0 311.4L1741.0 311.4L1742.0 311.4L1743.0 311.4L1744.0 311.4L1745.0 311.4" stroke="#2e62b0" stroke-width="2.4"/>
<path class="cv" d="M1062.0 416.4L1063.0 416.4L1064.0 416.4L1065.0 416.3L1066.0 416.3L1067.0 416.3L1068.0 416.3L1069.0 416.3L1070.0 416.2L1071.0 416.2L1072.0 416.2L1073.0 416.2L1074.0 416.2L1075.0 416.2L1076.0 416.2L1077.0 416.1L1078.0 416.1L1079.0 416.1L1080.0 416.1L1081.0 416.1L1082.0 416.1L1083.0 416.1L1084.0 416.1L1085.0 416.1L1086.0 416.0L1087.0 416.0L1088.0 416.0L1089.0 416.0L1090.0 416.0L1091.0 416.0L1092.0 416.0L1093.0 416.0L1094.0 416.0L1095.0 416.0L1096.0 416.0L1097.0 416.0L1098.0 416.0L1099.0 416.0L1100.0 416.0L1101.0 416.0L1102.0 416.0L1103.0 416.0L1104.0 416.0L1105.0 416.0L1106.0 416.0L1107.0 416.0L1108.0 416.0L1109.0 416.0L1110.0 416.0L1111.0 416.0L1112.0 416.0L1113.0 416.1L1114.0 416.1L1115.0 416.1L1116.0 416.1L1117.0 416.1L1118.0 416.1L1119.0 416.1L1120.0 416.1L1121.0 416.2L1122.0 416.2L1123.0 416.2L1124.0 416.2L1125.0 416.2L1126.0 416.2L1127.0 416.2L1128.0 416.3L1129.0 416.3L1130.0 416.3L1131.0 416.3L1132.0 416.3L1133.0 416.3L1134.0 416.4L1135.0 416.4L1136.0 416.4L1137.0 416.4L1138.0 416.4L1139.0 416.4L1140.0 416.5L1141.0 416.5L1142.0 416.5L1143.0 416.5L1144.0 416.5L1145.0 416.5L1146.0 416.6L1147.0 416.6L1148.0 416.6L1149.0 416.6L1150.0 416.6L1151.0 416.6L1152.0 416.7L1153.0 416.7L1154.0 416.7L1155.0 416.7L1156.0 416.7L1157.0 416.7L1158.0 416.7L1159.0 416.7L1160.0 416.8L1161.0 416.8L1162.0 416.8L1163.0 416.8L1164.0 416.8L1165.0 416.8L1166.0 416.8L1167.0 416.8L1168.0 416.8L1169.0 416.8L1170.0 416.8L1171.0 416.8L1172.0 416.8L1173.0 416.8L1174.0 416.8L1175.0 416.8L1176.0 416.8L1177.0 416.8L1178.0 416.8L1179.0 416.8L1180.0 416.8L1181.0 416.8L1182.0 416.8L1183.0 416.8L1184.0 416.8L1185.0 416.8L1186.0 416.8L1187.0 416.8L1188.0 416.8L1189.0 416.8L1190.0 416.8L1191.0 416.8L1192.0 416.7L1193.0 416.7L1194.0 416.7L1195.0 416.7L1196.0 416.7L1197.0 416.7L1198.0 416.7L1199.0 416.7L1200.0 416.7L1201.0 416.7L1202.0 416.7L1203.0 416.6L1204.0 416.6L1205.0 416.6L1206.0 416.6L1207.0 416.6L1208.0 416.6L1209.0 416.6L1210.0 416.6L1211.0 416.6L1212.0 416.6L1213.0 416.6L1214.0 416.5L1215.0 416.5L1216.0 416.5L1217.0 416.5L1218.0 416.5L1219.0 416.5L1220.0 416.5L1221.0 416.5L1222.0 416.5L1223.0 416.5L1224.0 416.5L1225.0 416.5L1226.0 416.4L1227.0 416.4L1228.0 416.4L1229.0 416.4L1230.0 416.4L1231.0 416.4L1232.0 416.4L1233.0 416.4L1234.0 416.4L1235.0 416.4L1236.0 416.4L1237.0 416.4L1238.0 416.4L1239.0 416.4L1240.0 416.4L1241.0 416.4L1242.0 416.4L1243.0 416.4L1244.0 416.4L1245.0 416.5L1246.0 416.5L1247.0 416.5L1248.0 416.5L1249.0 416.5L1250.0 416.6L1251.0 416.6L1252.0 416.6L1253.0 416.7L1254.0 416.7L1255.0 416.7L1256.0 416.8L1257.0 416.8L1258.0 416.9L1259.0 416.9L1260.0 416.9L1261.0 417.0L1262.0 417.0L1263.0 417.0L1264.0 417.1L1265.0 417.1L1266.0 417.1L1267.0 417.1L1268.0 417.2L1269.0 417.2L1270.0 417.2L1271.0 417.2L1272.0 417.2L1273.0 417.2L1274.0 417.2L1275.0 417.2L1276.0 417.2L1277.0 417.2L1278.0 417.2L1279.0 417.1L1280.0 417.1L1281.0 417.0L1282.0 417.0L1283.0 416.9L1284.0 416.9L1285.0 416.8L1286.0 416.7L1287.0 416.6L1288.0 416.5L1289.0 416.4L1290.0 416.3L1291.0 416.1L1292.0 416.0L1293.0 415.8L1294.0 415.7L1295.0 415.5L1296.0 415.3L1297.0 415.1L1298.0 414.9L1299.0 414.7L1300.0 414.5L1301.0 414.3L1302.0 414.1L1303.0 413.9L1304.0 413.7L1305.0 413.5L1306.0 413.3L1307.0 413.1L1308.0 412.9L1309.0 412.8L1310.0 412.6L1311.0 412.4L1312.0 412.2L1313.0 412.1L1314.0 411.9L1315.0 411.7L1316.0 411.6L1317.0 411.4L1318.0 411.2L1319.0 411.1L1320.0 411.0L1321.0 410.8L1322.0 410.7L1323.0 410.6L1324.0 410.4L1325.0 410.4L1326.0 410.3L1327.0 410.3L1328.0 410.3L1329.0 410.3L1330.0 410.3L1331.0 410.4L1332.0 410.5L1333.0 410.6L1334.0 410.7L1335.0 410.8L1336.0 411.0L1337.0 411.1L1338.0 411.3L1339.0 411.5L1340.0 411.8L1341.0 412.0L1342.0 412.2L1343.0 412.4L1344.0 412.7L1345.0 412.9L1346.0 413.2L1347.0 413.4L1348.0 413.7L1349.0 413.9L1350.0 414.1L1351.0 414.4L1352.0 414.6L1353.0 414.9L1354.0 415.1L1355.0 415.3L1356.0 415.6L1357.0 415.8L1358.0 416.0L1359.0 416.3L1360.0 416.5L1361.0 416.7L1362.0 417.0L1363.0 417.2L1364.0 417.4L1365.0 417.6L1366.0 417.8L1367.0 418.0L1368.0 418.2L1369.0 418.4L1370.0 418.6L1371.0 418.6L1372.0 418.6L1373.0 418.4L1374.0 418.2L1375.0 418.0L1376.0 417.7L1377.0 417.4L1378.0 417.2L1379.0 417.1L1380.0 417.0L1381.0 417.0L1382.0 417.1L1383.0 417.2L1384.0 417.3L1385.0 417.5L1386.0 417.6L1387.0 417.6L1388.0 417.6L1389.0 417.5L1390.0 417.4L1391.0 417.3L1392.0 417.1L1393.0 416.9L1394.0 416.6L1395.0 416.3L1396.0 415.9L1397.0 415.5L1398.0 415.1L1399.0 414.6L1400.0 414.1L1401.0 413.6L1402.0 413.1L1403.0 412.6L1404.0 412.1L1405.0 411.6L1406.0 411.0L1407.0 410.5L1408.0 409.9L1409.0 409.4L1410.0 408.9L1411.0 408.3L1412.0 407.8L1413.0 407.3L1414.0 406.8L1415.0 406.4L1416.0 406.0L1417.0 405.6L1418.0 405.2L1419.0 404.8L1420.0 404.5L1421.0 404.1L1422.0 403.8L1423.0 403.4L1424.0 403.1L1425.0 402.8L1426.0 402.5L1427.0 402.2L1428.0 401.9L1429.0 401.7L1430.0 401.4L1431.0 401.2L1432.0 400.9L1433.0 400.7L1434.0 400.5L1435.0 400.3L1436.0 400.1L1437.0 399.9L1438.0 399.7L1439.0 399.5L1440.0 399.3L1441.0 399.1L1442.0 398.9L1443.0 398.7L1444.0 398.4L1445.0 398.2L1446.0 398.0L1447.0 397.8L1448.0 397.5L1449.0 397.3L1450.0 397.0L1451.0 396.7L1452.0 396.5L1453.0 396.1L1454.0 395.8L1455.0 395.5L1456.0 395.2L1457.0 394.8L1458.0 394.5L1459.0 394.1L1460.0 393.7L1461.0 393.4L1462.0 393.0L1463.0 392.6L1464.0 392.1L1465.0 391.7L1466.0 391.3L1467.0 390.8L1468.0 390.3L1469.0 389.8L1470.0 389.2L1471.0 388.6L1472.0 388.0L1473.0 387.4L1474.0 386.8L1475.0 386.1L1476.0 385.3L1477.0 384.5L1478.0 383.7L1479.0 382.8L1480.0 381.9L1481.0 380.9L1482.0 379.8L1483.0 378.7L1484.0 377.4L1485.0 376.1L1486.0 374.7L1487.0 373.2L1488.0 371.7L1489.0 370.1L1490.0 368.4L1491.0 366.5L1492.0 364.6L1493.0 362.6L1494.0 360.4L1495.0 358.0L1496.0 355.6L1497.0 353.1L1498.0 350.5L1499.0 347.8L1500.0 345.0L1501.0 342.1L1502.0 339.2L1503.0 335.9L1504.0 332.1L1505.0 327.4L1506.0 320.9L1507.0 314.7L1508.0 309.3L1509.0 304.2L1510.0 299.4L1511.0 295.1L1512.0 292.0L1513.0 290.3L1514.0 289.9L1515.0 290.3L1516.0 291.7L1517.0 294.3L1518.0 298.6L1519.0 304.1L1520.0 309.9L1521.0 315.8L1522.0 322.0L1523.0 328.3L1524.0 335.0L1525.0 341.9L1526.0 348.4L1527.0 354.3L1528.0 359.5L1529.0 364.1L1530.0 368.6L1531.0 372.8L1532.0 376.8L1533.0 380.6L1534.0 384.0L1535.0 387.2L1536.0 390.0L1537.0 392.5L1538.0 394.6L1539.0 396.5L1540.0 398.2L1541.0 399.8L1542.0 401.2L1543.0 402.5L1544.0 403.6L1545.0 404.4L1546.0 405.3L1547.0 406.1L1548.0 406.8L1549.0 407.5L1550.0 408.2L1551.0 408.8L1552.0 409.4L1553.0 409.8L1554.0 410.3L1555.0 410.7L1556.0 411.2L1557.0 411.6L1558.0 411.9L1559.0 412.2L1560.0 412.4L1561.0 412.6L1562.0 412.7L1563.0 412.9L1564.0 413.1L1565.0 413.2L1566.0 413.4L1567.0 413.6L1568.0 413.7L1569.0 413.9L1570.0 414.0L1571.0 414.1L1572.0 414.3L1573.0 414.4L1574.0 414.5L1575.0 414.6L1576.0 414.8L1577.0 414.9L1578.0 415.0L1579.0 415.0L1580.0 415.1L1581.0 415.2L1582.0 415.3L1583.0 415.4L1584.0 415.4L1585.0 415.5L1586.0 415.5L1587.0 415.5L1588.0 415.6L1589.0 415.6L1590.0 415.6L1591.0 415.7L1592.0 415.7L1593.0 415.7L1594.0 415.8L1595.0 415.8L1596.0 415.9L1597.0 415.9L1598.0 415.9L1599.0 416.0L1600.0 416.0L1601.0 416.0L1602.0 416.1L1603.0 416.1L1604.0 416.1L1605.0 416.2L1606.0 416.2L1607.0 416.2L1608.0 416.3L1609.0 416.3L1610.0 416.3L1611.0 416.4L1612.0 416.4L1613.0 416.4L1614.0 416.4L1615.0 416.5L1616.0 416.5L1617.0 416.5L1618.0 416.6L1619.0 416.6L1620.0 416.6L1621.0 416.6L1622.0 416.7L1623.0 416.7L1624.0 416.7L1625.0 416.7L1626.0 416.7L1627.0 416.8L1628.0 416.8L1629.0 416.8L1630.0 416.8L1631.0 416.8L1632.0 416.8L1633.0 416.8L1634.0 416.9L1635.0 416.9L1636.0 416.9L1637.0 416.9L1638.0 416.9L1639.0 416.9L1640.0 416.9L1641.0 416.9L1642.0 416.9L1643.0 416.9L1644.0 416.9L1645.0 416.9L1646.0 416.9L1647.0 417.0L1648.0 417.0L1649.0 417.0L1650.0 417.0L1651.0 417.0L1652.0 417.0L1653.0 417.0L1654.0 417.0L1655.0 417.0L1656.0 417.0L1657.0 417.0L1658.0 417.0L1659.0 417.0L1660.0 417.0L1661.0 417.0L1662.0 417.0L1663.0 417.0L1664.0 417.1L1665.0 417.1L1666.0 417.1L1667.0 417.1L1668.0 417.1L1669.0 417.1L1670.0 417.1L1671.0 417.1L1672.0 417.1L1673.0 417.1L1674.0 417.1L1675.0 417.1L1676.0 417.1L1677.0 417.1L1678.0 417.1L1679.0 417.1L1680.0 417.1L1681.0 417.1L1682.0 417.1L1683.0 417.1L1684.0 417.1L1685.0 417.1L1686.0 417.1L1687.0 417.1L1688.0 417.1L1689.0 417.2L1690.0 417.2L1691.0 417.2L1692.0 417.2L1693.0 417.2L1694.0 417.2L1695.0 417.2L1696.0 417.2L1697.0 417.2L1698.0 417.2L1699.0 417.2L1700.0 417.2L1701.0 417.2L1702.0 417.2L1703.0 417.2L1704.0 417.2L1705.0 417.2L1706.0 417.2L1707.0 417.2L1708.0 417.2L1709.0 417.2L1710.0 417.2L1711.0 417.2L1712.0 417.2L1713.0 417.1L1714.0 417.1L1715.0 417.1L1716.0 417.1L1717.0 417.1L1718.0 417.1L1719.0 417.1L1720.0 417.1L1721.0 417.1L1722.0 417.1L1723.0 417.1L1724.0 417.1L1725.0 417.1L1726.0 417.1L1727.0 417.1L1728.0 417.1L1729.0 417.1L1730.0 417.1L1731.0 417.1L1732.0 417.0L1733.0 417.0L1734.0 417.0L1735.0 417.0L1736.0 417.0L1737.0 417.0L1738.0 417.0L1739.0 417.0L1740.0 417.0L1741.0 417.0L1742.0 416.9L1743.0 416.9L1744.0 416.9L1745.0 416.9" stroke="#e84040" stroke-width="2.4"/>
<path class="cv" d="M1062.0 509.7L1063.0 509.7L1064.0 509.6L1065.0 509.6L1066.0 509.5L1067.0 509.5L1068.0 509.4L1069.0 509.4L1070.0 509.4L1071.0 509.3L1072.0 509.3L1073.0 509.2L1074.0 509.2L1075.0 509.2L1076.0 509.1L1077.0 509.1L1078.0 509.1L1079.0 509.0L1080.0 509.0L1081.0 509.0L1082.0 509.0L1083.0 508.9L1084.0 508.9L1085.0 508.9L1086.0 508.9L1087.0 508.9L1088.0 508.8L1089.0 508.8L1090.0 508.8L1091.0 508.8L1092.0 508.8L1093.0 508.8L1094.0 508.8L1095.0 508.8L1096.0 508.8L1097.0 508.8L1098.0 508.8L1099.0 508.8L1100.0 508.8L1101.0 508.8L1102.0 508.9L1103.0 508.9L1104.0 508.9L1105.0 508.9L1106.0 509.0L1107.0 509.0L1108.0 509.0L1109.0 509.0L1110.0 509.1L1111.0 509.1L1112.0 509.1L1113.0 509.2L1114.0 509.2L1115.0 509.2L1116.0 509.3L1117.0 509.3L1118.0 509.4L1119.0 509.4L1120.0 509.4L1121.0 509.5L1122.0 509.5L1123.0 509.6L1124.0 509.6L1125.0 509.6L1126.0 509.7L1127.0 509.7L1128.0 509.8L1129.0 509.8L1130.0 509.8L1131.0 509.9L1132.0 509.9L1133.0 510.0L1134.0 510.0L1135.0 510.0L1136.0 510.1L1137.0 510.1L1138.0 510.2L1139.0 510.2L1140.0 510.2L1141.0 510.3L1142.0 510.3L1143.0 510.3L1144.0 510.4L1145.0 510.4L1146.0 510.4L1147.0 510.4L1148.0 510.5L1149.0 510.5L1150.0 510.5L1151.0 510.5L1152.0 510.6L1153.0 510.6L1154.0 510.6L1155.0 510.6L1156.0 510.7L1157.0 510.7L1158.0 510.7L1159.0 510.7L1160.0 510.8L1161.0 510.8L1162.0 510.8L1163.0 510.8L1164.0 510.8L1165.0 510.9L1166.0 510.9L1167.0 510.9L1168.0 510.9L1169.0 510.9L1170.0 511.0L1171.0 511.0L1172.0 511.0L1173.0 511.0L1174.0 511.0L1175.0 511.1L1176.0 511.1L1177.0 511.1L1178.0 511.1L1179.0 511.1L1180.0 511.2L1181.0 511.2L1182.0 511.2L1183.0 511.2L1184.0 511.2L1185.0 511.2L1186.0 511.2L1187.0 511.3L1188.0 511.3L1189.0 511.3L1190.0 511.3L1191.0 511.3L1192.0 511.3L1193.0 511.3L1194.0 511.4L1195.0 511.4L1196.0 511.4L1197.0 511.4L1198.0 511.4L1199.0 511.4L1200.0 511.4L1201.0 511.4L1202.0 511.4L1203.0 511.4L1204.0 511.4L1205.0 511.4L1206.0 511.3L1207.0 511.3L1208.0 511.3L1209.0 511.3L1210.0 511.2L1211.0 511.2L1212.0 511.1L1213.0 511.1L1214.0 511.1L1215.0 511.0L1216.0 511.0L1217.0 510.9L1218.0 510.9L1219.0 510.8L1220.0 510.8L1221.0 510.7L1222.0 510.7L1223.0 510.6L1224.0 510.6L1225.0 510.6L1226.0 510.5L1227.0 510.5L1228.0 510.4L1229.0 510.4L1230.0 510.4L1231.0 510.3L1232.0 510.3L1233.0 510.3L1234.0 510.2L1235.0 510.2L1236.0 510.2L1237.0 510.2L1238.0 510.2L1239.0 510.2L1240.0 510.2L1241.0 510.2L1242.0 510.2L1243.0 510.2L1244.0 510.2L1245.0 510.3L1246.0 510.3L1247.0 510.4L1248.0 510.4L1249.0 510.5L1250.0 510.5L1251.0 510.6L1252.0 510.7L1253.0 510.7L1254.0 510.8L1255.0 510.9L1256.0 510.9L1257.0 511.0L1258.0 511.0L1259.0 511.1L1260.0 511.1L1261.0 511.2L1262.0 511.2L1263.0 511.2L1264.0 511.2L1265.0 511.2L1266.0 511.3L1267.0 511.3L1268.0 511.3L1269.0 511.3L1270.0 511.2L1271.0 511.3L1272.0 511.3L1273.0 511.3L1274.0 511.3L1275.0 511.3L1276.0 511.3L1277.0 511.2L1278.0 511.2L1279.0 511.2L1280.0 511.1L1281.0 511.0L1282.0 510.9L1283.0 510.8L1284.0 510.7L1285.0 510.5L1286.0 510.3L1287.0 510.0L1288.0 509.8L1289.0 509.5L1290.0 509.2L1291.0 508.8L1292.0 508.5L1293.0 508.2L1294.0 507.9L1295.0 507.6L1296.0 507.3L1297.0 507.0L1298.0 506.7L1299.0 506.3L1300.0 506.0L1301.0 505.7L1302.0 505.3L1303.0 505.0L1304.0 504.7L1305.0 504.2L1306.0 503.8L1307.0 503.2L1308.0 502.7L1309.0 502.1L1310.0 501.6L1311.0 501.0L1312.0 500.5L1313.0 500.1L1314.0 499.7L1315.0 499.3L1316.0 499.0L1317.0 498.8L1318.0 498.5L1319.0 498.4L1320.0 498.2L1321.0 498.1L1322.0 498.1L1323.0 498.1L1324.0 498.1L1325.0 498.2L1326.0 498.2L1327.0 498.3L1328.0 498.5L1329.0 498.6L1330.0 498.7L1331.0 498.9L1332.0 499.1L1333.0 499.3L1334.0 499.5L1335.0 499.7L1336.0 499.9L1337.0 500.1L1338.0 500.3L1339.0 500.6L1340.0 500.8L1341.0 501.1L1342.0 501.3L1343.0 501.6L1344.0 502.0L1345.0 502.3L1346.0 502.7L1347.0 503.1L1348.0 503.6L1349.0 504.1L1350.0 504.5L1351.0 505.0L1352.0 505.5L1353.0 506.1L1354.0 506.6L1355.0 507.1L1356.0 507.6L1357.0 508.2L1358.0 508.7L1359.0 509.3L1360.0 509.8L1361.0 510.4L1362.0 511.0L1363.0 511.5L1364.0 512.1L1365.0 512.6L1366.0 513.0L1367.0 513.4L1368.0 513.6L1369.0 513.6L1370.0 513.5L1371.0 513.4L1372.0 513.1L1373.0 512.9L1374.0 512.6L1375.0 512.4L1376.0 512.0L1377.0 511.7L1378.0 511.3L1379.0 511.0L1380.0 510.7L1381.0 510.5L1382.0 510.5L1383.0 510.6L1384.0 510.9L1385.0 511.1L1386.0 511.4L1387.0 511.7L1388.0 511.9L1389.0 511.9L1390.0 511.8L1391.0 511.7L1392.0 511.5L1393.0 511.2L1394.0 510.8L1395.0 510.2L1396.0 509.6L1397.0 508.9L1398.0 508.1L1399.0 507.3L1400.0 506.5L1401.0 505.6L1402.0 504.7L1403.0 503.8L1404.0 502.9L1405.0 502.0L1406.0 501.1L1407.0 500.3L1408.0 499.4L1409.0 498.6L1410.0 497.8L1411.0 497.0L1412.0 496.2L1413.0 495.4L1414.0 494.6L1415.0 493.9L1416.0 493.2L1417.0 492.5L1418.0 491.9L1419.0 491.2L1420.0 490.6L1421.0 490.1L1422.0 489.5L1423.0 489.0L1424.0 488.5L1425.0 488.0L1426.0 487.5L1427.0 487.1L1428.0 486.7L1429.0 486.4L1430.0 486.0L1431.0 485.7L1432.0 485.4L1433.0 485.0L1434.0 484.7L1435.0 484.4L1436.0 484.0L1437.0 483.7L1438.0 483.3L1439.0 482.9L1440.0 482.6L1441.0 482.2L1442.0 481.8L1443.0 481.5L1444.0 481.1L1445.0 480.8L1446.0 480.5L1447.0 480.1L1448.0 479.8L1449.0 479.5L1450.0 479.1L1451.0 478.8L1452.0 478.3L1453.0 477.9L1454.0 477.4L1455.0 476.9L1456.0 476.4L1457.0 475.9L1458.0 475.4L1459.0 474.8L1460.0 474.2L1461.0 473.6L1462.0 473.0L1463.0 472.4L1464.0 471.8L1465.0 471.1L1466.0 470.4L1467.0 469.7L1468.0 468.9L1469.0 468.2L1470.0 467.4L1471.0 466.6L1472.0 465.8L1473.0 464.9L1474.0 464.0L1475.0 463.1L1476.0 462.1L1477.0 461.1L1478.0 460.0L1479.0 459.0L1480.0 457.9L1481.0 456.7L1482.0 455.4L1483.0 454.1L1484.0 452.7L1485.0 451.2L1486.0 449.7L1487.0 448.0L1488.0 446.2L1489.0 444.1L1490.0 442.0L1491.0 439.8L1492.0 437.6L1493.0 435.3L1494.0 432.7L1495.0 429.7L1496.0 426.0L1497.0 421.7L1498.0 417.1L1499.0 412.3L1500.0 407.5L1501.0 402.7L1502.0 397.8L1503.0 392.7L1504.0 387.2L1505.0 381.2L1506.0 375.2L1507.0 369.3L1508.0 363.6L1509.0 358.0L1510.0 352.5L1511.0 348.2L1512.0 344.8L1513.0 342.6L1514.0 342.1L1515.0 342.5L1516.0 344.0L1517.0 348.3L1518.0 354.6L1519.0 361.5L1520.0 368.5L1521.0 375.7L1522.0 383.6L1523.0 392.2L1524.0 400.9L1525.0 409.4L1526.0 417.7L1527.0 425.1L1528.0 431.0L1529.0 438.4L1530.0 445.5L1531.0 451.0L1532.0 455.5L1533.0 459.6L1534.0 463.6L1535.0 467.2L1536.0 470.4L1537.0 473.2L1538.0 475.8L1539.0 478.2L1540.0 480.4L1541.0 482.5L1542.0 484.5L1543.0 486.3L1544.0 488.0L1545.0 489.4L1546.0 490.6L1547.0 491.8L1548.0 492.9L1549.0 494.0L1550.0 494.9L1551.0 495.8L1552.0 496.7L1553.0 497.6L1554.0 498.4L1555.0 499.2L1556.0 499.9L1557.0 500.6L1558.0 501.1L1559.0 501.6L1560.0 502.1L1561.0 502.6L1562.0 503.0L1563.0 503.4L1564.0 503.8L1565.0 504.2L1566.0 504.5L1567.0 504.9L1568.0 505.2L1569.0 505.5L1570.0 505.8L1571.0 506.1L1572.0 506.4L1573.0 506.6L1574.0 506.9L1575.0 507.1L1576.0 507.3L1577.0 507.5L1578.0 507.7L1579.0 507.8L1580.0 508.0L1581.0 508.1L1582.0 508.3L1583.0 508.4L1584.0 508.6L1585.0 508.7L1586.0 508.8L1587.0 509.0L1588.0 509.1L1589.0 509.2L1590.0 509.3L1591.0 509.4L1592.0 509.5L1593.0 509.6L1594.0 509.6L1595.0 509.7L1596.0 509.8L1597.0 509.8L1598.0 509.8L1599.0 509.9L1600.0 509.9L1601.0 509.9L1602.0 510.0L1603.0 510.0L1604.0 510.1L1605.0 510.1L1606.0 510.1L1607.0 510.2L1608.0 510.2L1609.0 510.2L1610.0 510.3L1611.0 510.3L1612.0 510.3L1613.0 510.3L1614.0 510.4L1615.0 510.4L1616.0 510.4L1617.0 510.5L1618.0 510.5L1619.0 510.5L1620.0 510.5L1621.0 510.6L1622.0 510.6L1623.0 510.6L1624.0 510.6L1625.0 510.7L1626.0 510.7L1627.0 510.7L1628.0 510.7L1629.0 510.8L1630.0 510.8L1631.0 510.8L1632.0 510.8L1633.0 510.8L1634.0 510.9L1635.0 510.9L1636.0 510.9L1637.0 510.9L1638.0 510.9L1639.0 510.9L1640.0 511.0L1641.0 511.0L1642.0 511.0L1643.0 511.0L1644.0 511.0L1645.0 511.0L1646.0 511.0L1647.0 511.0L1648.0 511.1L1649.0 511.1L1650.0 511.1L1651.0 511.1L1652.0 511.1L1653.0 511.1L1654.0 511.1L1655.0 511.1L1656.0 511.1L1657.0 511.1L1658.0 511.1L1659.0 511.1L1660.0 511.1L1661.0 511.1L1662.0 511.1L1663.0 511.1L1664.0 511.1L1665.0 511.2L1666.0 511.2L1667.0 511.2L1668.0 511.2L1669.0 511.2L1670.0 511.2L1671.0 511.2L1672.0 511.2L1673.0 511.2L1674.0 511.2L1675.0 511.2L1676.0 511.2L1677.0 511.2L1678.0 511.2L1679.0 511.2L1680.0 511.2L1681.0 511.2L1682.0 511.2L1683.0 511.2L1684.0 511.2L1685.0 511.2L1686.0 511.2L1687.0 511.3L1688.0 511.3L1689.0 511.3L1690.0 511.3L1691.0 511.3L1692.0 511.3L1693.0 511.3L1694.0 511.3L1695.0 511.3L1696.0 511.3L1697.0 511.3L1698.0 511.3L1699.0 511.3L1700.0 511.3L1701.0 511.3L1702.0 511.3L1703.0 511.3L1704.0 511.3L1705.0 511.3L1706.0 511.3L1707.0 511.3L1708.0 511.3L1709.0 511.3L1710.0 511.3L1711.0 511.3L1712.0 511.3L1713.0 511.3L1714.0 511.3L1715.0 511.3L1716.0 511.3L1717.0 511.3L1718.0 511.3L1719.0 511.3L1720.0 511.3L1721.0 511.3L1722.0 511.3L1723.0 511.3L1724.0 511.3L1725.0 511.3L1726.0 511.3L1727.0 511.2L1728.0 511.2L1729.0 511.2L1730.0 511.2L1731.0 511.2L1732.0 511.2L1733.0 511.2L1734.0 511.2L1735.0 511.2L1736.0 511.2L1737.0 511.2L1738.0 511.2L1739.0 511.2L1740.0 511.2L1741.0 511.1L1742.0 511.1L1743.0 511.1L1744.0 511.1L1745.0 511.1" stroke="#000000" stroke-width="2.4"/>
</g>
<rect class="fr" x="1062.4" y="23.6" width="682.9" height="508.5"/>
<path class="fr" d="M1062.4 532.1V543.7M1119.3 532.1V538.7M1176.2 532.1V543.7M1233.1 532.1V538.7M1290.0 532.1V543.7M1346.9 532.1V538.7M1403.9 532.1V543.7M1460.8 532.1V538.7M1517.7 532.1V543.7M1574.6 532.1V538.7M1631.5 532.1V543.7M1688.4 532.1V538.7M1745.3 532.1V543.7M1062.4 90.0H1051.0M1062.4 200.5H1051.0M1062.4 311.1H1051.0M1062.4 421.6H1051.0M1062.4 532.1H1051.0M1062.4 34.7H1056.0M1062.4 145.3H1056.0M1062.4 255.8H1056.0M1062.4 366.3H1056.0M1062.4 476.8H1056.0"/>
<text class="tick" text-anchor="middle" transform="translate(1062.6 571.4)">-200</text>
<text class="tick" text-anchor="middle" transform="translate(1176.4 571.4)">-150</text>
<text class="tick" text-anchor="middle" transform="translate(1290.2 571.4)">-100</text>
<text class="tick" text-anchor="middle" transform="translate(1404.1 571.4)">-50</text>
<text class="tick" text-anchor="middle" transform="translate(1517.9 571.4)">0</text>
<text class="tick" text-anchor="middle" transform="translate(1631.7 571.4)">50</text>
<text class="tick" text-anchor="middle" transform="translate(1745.5 571.4)">100</text>
<text class="tick" text-anchor="end" transform="translate(1044.8 97.9)">0.020</text>
<text class="tick" text-anchor="end" transform="translate(1044.8 208.4)">0.015</text>
<text class="tick" text-anchor="end" transform="translate(1044.8 318.9)">0.010</text>
<text class="tick" text-anchor="end" transform="translate(1044.8 429.5)">0.005</text>
<text class="tick" text-anchor="end" transform="translate(1044.8 540.0)">0.000</text>
<text class="title" transform="translate(151.5 53.8)">Experiment (θ=30°)</text>
<text class="title" transform="translate(1072.8 56.4)">Calculation (θ=30°)</text>
<text class="panel" transform="translate(-2.2 36.3)">(a)</text>
<text class="panel" transform="translate(916.3 36.0)">(b)</text>
<text class="axis" text-anchor="middle" transform="translate(497.5 620.3)">Detuning (MHz)</text>
<text class="axis" text-anchor="middle" transform="translate(1417.0 620.6)">Detuning (MHz)</text>
<text class="yaxis" text-anchor="middle" transform="translate(35.8 285.4) rotate(-90)">Spectra (Arb. units)</text>
<text class="yaxis" text-anchor="middle" transform="translate(945.9 296.0) rotate(-90)">Spectra (Arb. units)</text>
<rect x="703.3" y="32.2" width="113.3" height="185.1" fill="#fff" stroke="#000" stroke-width="1.5"/>
<path d="M711 80.7H768" stroke="#5e3eae" stroke-width="1.5" fill="none"/>
<text class="leg" transform="translate(773.3 89.0) scale(1 1.055)">88°</text>
<path d="M711 111.0H768" stroke="#237d2d" stroke-width="1.5" fill="none"/>
<text class="leg" transform="translate(773.3 119.3) scale(1 1.055)">89°</text>
<path d="M711 142.3H768" stroke="#233da3" stroke-width="1.5" fill="none"/>
<text class="leg" transform="translate(773.3 150.6) scale(1 1.055)">90°</text>
<path d="M711 172.7H768" stroke="#e02010" stroke-width="1.5" fill="none"/>
<text class="leg" transform="translate(773.3 181.0) scale(1 1.055)">91°</text>
<path d="M711 203.1H768" stroke="#000000" stroke-width="1.5" fill="none"/>
<text class="leg" transform="translate(773.3 211.4) scale(1 1.055)">92°</text>
<text class="leg" transform="translate(779.3 57.8) scale(1 1.055)">α</text>
<rect x="1627.7" y="32.8" width="107.4" height="189.0" fill="#fff" stroke="#000" stroke-width="1.5"/>
<path d="M1631 81.4H1688" stroke="#ac78d0" stroke-width="2.3" fill="none"/>
<text class="leg" transform="translate(1693.8 89.7) scale(1 1.055)">88°</text>
<path d="M1631 112.3H1688" stroke="#5aad72" stroke-width="2.3" fill="none"/>
<text class="leg" transform="translate(1693.8 120.6) scale(1 1.055)">89°</text>
<path d="M1631 142.8H1688" stroke="#2e62b0" stroke-width="2.3" fill="none"/>
<text class="leg" transform="translate(1693.8 151.1) scale(1 1.055)">90°</text>
<path d="M1631 173.5H1688" stroke="#e84040" stroke-width="2.3" fill="none"/>
<text class="leg" transform="translate(1693.8 181.8) scale(1 1.055)">91°</text>
<path d="M1631 204.0H1688" stroke="#000000" stroke-width="2.3" fill="none"/>
<text class="leg" transform="translate(1693.8 212.3) scale(1 1.055)">92°</text>
<text class="leg" transform="translate(1699.0 58.7) scale(1 1.055)">α</text>
<g id="m1" fill="#ffffff" stroke="none">
<rect x="239.85" y="567.78" width="5.63" height="5.32"/>
<rect x="249.02" y="567.78" width="5.39" height="5.32"/>
<rect x="353.65" y="567.78" width="5.63" height="5.32"/>
<rect x="362.82" y="567.78" width="5.39" height="5.32"/>
<rect x="805.00" y="567.78" width="5.63" height="5.32"/>
<rect x="814.17" y="567.78" width="5.39" height="5.32"/>
<rect x="96.57" y="36.78" width="5.63" height="5.32"/>
<rect x="105.74" y="36.78" width="5.39" height="5.32"/>
<rect x="96.57" y="129.28" width="5.63" height="5.32"/>
<rect x="105.74" y="129.28" width="5.39" height="5.32"/>
<rect x="1159.65" y="567.78" width="5.63" height="5.32"/>
<rect x="1168.82" y="567.78" width="5.39" height="5.32"/>
<rect x="1273.45" y="567.78" width="5.63" height="5.32"/>
<rect x="1282.62" y="567.78" width="5.39" height="5.32"/>
<rect x="1724.70" y="567.78" width="5.63" height="5.32"/>
<rect x="1733.87" y="567.78" width="5.39" height="5.32"/>
<rect x="1016.47" y="204.78" width="5.63" height="5.32"/>
<rect x="1025.64" y="204.78" width="5.39" height="5.32"/>
<rect x="1016.47" y="315.28" width="5.63" height="5.32"/>
<rect x="1025.64" y="315.28" width="5.39" height="5.32"/>
<rect x="788.94" y="177.70" width="4.90" height="5.00"/>
<rect x="797.01" y="177.70" width="4.69" height="5.00"/>
<rect x="1709.44" y="178.50" width="4.90" height="5.00"/>
<rect x="1717.51" y="178.50" width="4.69" height="5.00"/>
</g>
</svg>
</body>
</html>
